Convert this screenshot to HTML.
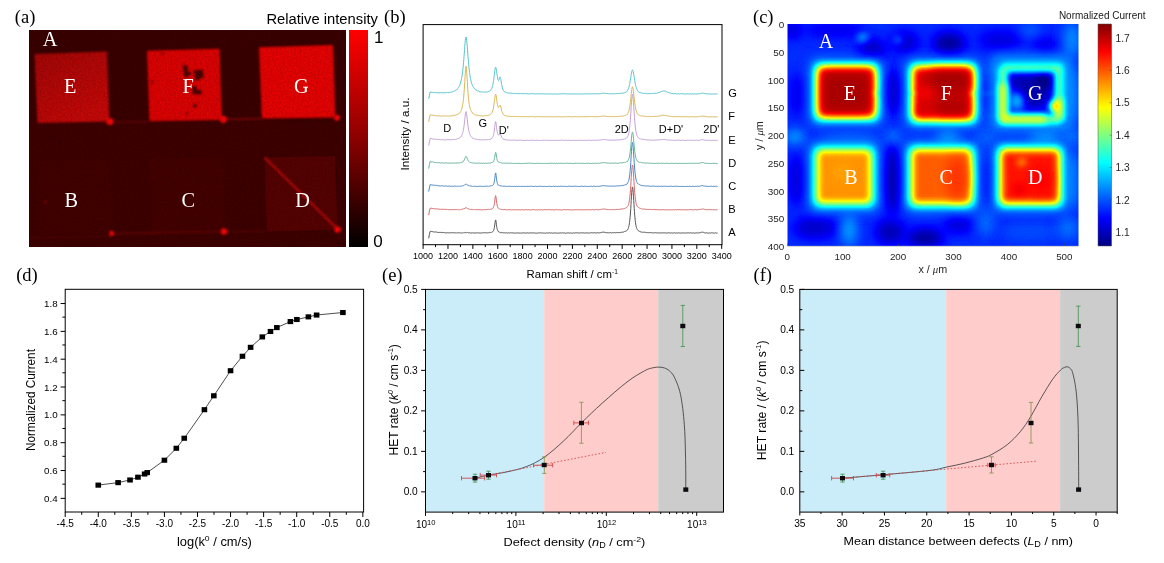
<!DOCTYPE html>
<html lang="en"><head><meta charset="utf-8"><title>Figure</title>
<style>html,body{margin:0;padding:0;background:#fff;overflow:hidden}svg{display:block}</style></head>
<body><svg width="1164" height="563" viewBox="0 0 1164 563">
<rect width="1164" height="563" fill="#fff"/>
<defs>
<linearGradient id="cbA" x1="0" y1="0" x2="0" y2="1">
<stop offset="0" stop-color="#ff0000"/><stop offset="0.5" stop-color="#8c0000"/><stop offset="1" stop-color="#000000"/>
</linearGradient>
<linearGradient id="gE" x1="0" y1="0" x2="0.6" y2="1"><stop offset="0" stop-color="#a80606"/><stop offset="1" stop-color="#cc0808"/></linearGradient>
<linearGradient id="cbC" x1="0" y1="1" x2="0" y2="0">
<stop offset="0" stop-color="#000080"/><stop offset="0.125" stop-color="#0000ff"/><stop offset="0.375" stop-color="#00ffff"/><stop offset="0.625" stop-color="#ffff00"/><stop offset="0.875" stop-color="#ff0000"/><stop offset="1" stop-color="#800000"/>
</linearGradient>
<filter id="grain" x="0" y="0" width="100%" height="100%" color-interpolation-filters="sRGB">
<feTurbulence type="fractalNoise" baseFrequency="0.55" numOctaves="1" seed="4" result="n"/>
<feColorMatrix in="n" type="matrix" values="0.34 0 0 0 0.74  0.34 0 0 0 0.74  0.34 0 0 0 0.74  0 0 0 0 1" result="g"/>
<feBlend in="SourceGraphic" in2="g" mode="multiply"/>
</filter>
<filter id="soft" x="-5%" y="-5%" width="110%" height="110%" color-interpolation-filters="sRGB"><feGaussianBlur stdDeviation="0.9"/></filter>
<filter id="jet" x="0" y="0" width="100%" height="100%" color-interpolation-filters="sRGB">
<feGaussianBlur stdDeviation="0.6" result="b"/>
<feComponentTransfer in="b">
<feFuncR type="table" tableValues="0 0 0 0 0.5 1 1 1 0.5"/>
<feFuncG type="table" tableValues="0 0 0.5 1 1 1 0.5 0 0"/>
<feFuncB type="table" tableValues="0.5 1 1 1 0.5 0 0 0 0"/>
<feFuncA type="linear" slope="0" intercept="1"/>
</feComponentTransfer>
</filter>
<filter id="b2" filterUnits="userSpaceOnUse" x="740" y="0" width="424" height="282" color-interpolation-filters="sRGB"><feGaussianBlur stdDeviation="2"/></filter>
<filter id="b3" filterUnits="userSpaceOnUse" x="740" y="0" width="424" height="282" color-interpolation-filters="sRGB"><feGaussianBlur stdDeviation="3"/></filter>
<filter id="b35" filterUnits="userSpaceOnUse" x="740" y="0" width="424" height="282" color-interpolation-filters="sRGB"><feGaussianBlur stdDeviation="3.4"/></filter>
<filter id="b4" filterUnits="userSpaceOnUse" x="740" y="0" width="424" height="282" color-interpolation-filters="sRGB"><feGaussianBlur stdDeviation="4.2"/></filter>
<filter id="b6" filterUnits="userSpaceOnUse" x="740" y="0" width="424" height="282" color-interpolation-filters="sRGB"><feGaussianBlur stdDeviation="6"/></filter>
<clipPath id="clipA"><rect x="29" y="30" width="317" height="217"/></clipPath>
<clipPath id="clipC"><rect x="787.5" y="24" width="291" height="222"/></clipPath>
</defs>
<text x="14.80" y="23.00" font-size="18.5" text-anchor="start" font-family="Liberation Serif, Times New Roman, serif" fill="#000" >(a)</text>
<g clip-path="url(#clipA)"><g filter="url(#grain)">
<rect x="29" y="30" width="317" height="217" fill="#3c0000"/>
<rect x="29" y="122" width="317" height="125" fill="#400000"/>
<polygon points="38,161 110,159 112,233 40,235" fill="#440000"/>
<polygon points="150,159 223,157 225,231 152,233" fill="#460000"/>
<polygon points="264.6,157.5 335,156 337.5,229.5 267,231.5" fill="#580101"/>
<g filter="url(#soft)">
<polygon points="34.5,54 107,51.5 109.5,121.5 37.5,123" fill="url(#gE)"/>
<polygon points="147,50.8 219.6,48.7 222,120 149.4,121.2" fill="#e40202"/>
<polygon points="259,47.2 333,45 335.4,117.4 261.8,118.4" fill="#ee0202"/>
</g>
<g filter="url(#soft)">
<line x1="111.00" y1="122.00" x2="147.00" y2="121.60" stroke="#7a0505" stroke-width="1.2" />
<line x1="222.00" y1="119.60" x2="262.00" y2="118.60" stroke="#a00808" stroke-width="1.2" />
<line x1="111.00" y1="233.60" x2="224.00" y2="231.60" stroke="#740404" stroke-width="1.3" />
<line x1="29.00" y1="238.00" x2="111.00" y2="236.50" stroke="#5c0404" stroke-width="1.2" />
<line x1="224.00" y1="231.60" x2="267.00" y2="231.00" stroke="#5c0404" stroke-width="1.2" />
<line x1="264.60" y1="157.50" x2="338.00" y2="229.50" stroke="#c40a0a" stroke-width="2" />
<circle cx="110" cy="121.5" r="3.6" fill="#ff0606"/>
<circle cx="223.4" cy="119.3" r="3.6" fill="#ff0606"/>
<circle cx="337" cy="117.8" r="3.0" fill="#ff0606"/>
<circle cx="111.6" cy="233.4" r="2.6" fill="#f00606"/>
<circle cx="224" cy="231.5" r="3.3" fill="#ff0606"/>
<circle cx="337.5" cy="229.5" r="3.2" fill="#ff0606"/>
<circle cx="45.5" cy="202" r="1.2" fill="#a00808"/>
<rect x="183" y="65.5" width="4.5" height="5" fill="#4a0202"/>
<rect x="184" y="70" width="4" height="7" fill="#4a0202"/>
<rect x="188" y="72" width="3" height="3" fill="#4a0202"/>
<rect x="194" y="70" width="9" height="4" fill="#4a0202"/>
<rect x="195" y="74" width="5" height="6" fill="#4a0202"/>
<rect x="200" y="74" width="3.5" height="4" fill="#4a0202"/>
<rect x="192.5" y="86" width="4" height="8" fill="#4a0202"/>
<rect x="196" y="90" width="5.5" height="4.5" fill="#4a0202"/>
<rect x="193.5" y="104" width="3" height="3.5" fill="#4a0202"/>
<rect x="186" y="112.5" width="2" height="2" fill="#4a0202"/>
<rect x="151" y="81" width="2" height="2" fill="#4a0202"/>
<rect x="161" y="53" width="2.5" height="1.5" fill="#4a0202"/>
</g>
</g></g>
<text x="42.80" y="46.30" font-size="20.3" text-anchor="start" font-family="Liberation Serif, Times New Roman, serif" fill="#fff" >A</text>
<text x="64.00" y="92.90" font-size="20.3" text-anchor="start" font-family="Liberation Serif, Times New Roman, serif" fill="#fff" >E</text>
<text x="182.40" y="92.90" font-size="20.3" text-anchor="start" font-family="Liberation Serif, Times New Roman, serif" fill="#fff" >F</text>
<text x="294.00" y="92.90" font-size="20.3" text-anchor="start" font-family="Liberation Serif, Times New Roman, serif" fill="#fff" >G</text>
<text x="64.60" y="207.40" font-size="20.3" text-anchor="start" font-family="Liberation Serif, Times New Roman, serif" fill="#fff" >B</text>
<text x="181.60" y="207.40" font-size="20.3" text-anchor="start" font-family="Liberation Serif, Times New Roman, serif" fill="#fff" >C</text>
<text x="295.20" y="207.40" font-size="20.3" text-anchor="start" font-family="Liberation Serif, Times New Roman, serif" fill="#fff" >D</text>
<rect x="349" y="30" width="19" height="217" fill="url(#cbA)"/>
<text x="266.40" y="24.20" font-size="14.75" text-anchor="start" font-family="Liberation Sans, Arial, sans-serif" fill="#000" >Relative intensity</text>
<text x="374.00" y="42.50" font-size="17" text-anchor="start" font-family="Liberation Sans, Arial, sans-serif" fill="#000" >1</text>
<text x="373.20" y="247.00" font-size="17" text-anchor="start" font-family="Liberation Sans, Arial, sans-serif" fill="#000" >0</text>
<text x="384.00" y="23.00" font-size="18.5" text-anchor="start" font-family="Liberation Serif, Times New Roman, serif" fill="#000" >(b)</text>
<path d="M428.7,238.3 L429.4,234.4 L430.2,231.3 L430.9,231.4 L431.7,231.5 L432.4,231.6 L433.2,231.8 L433.9,231.9 L434.7,232.1 L435.4,231.9 L436.2,232.2 L436.9,232.0 L437.7,232.4 L438.4,232.5 L439.1,232.4 L439.9,232.4 L440.6,232.4 L441.4,232.4 L442.1,232.5 L442.9,232.7 L443.6,232.5 L444.4,232.7 L445.1,232.8 L445.9,232.8 L446.6,232.9 L447.4,232.7 L448.1,232.9 L448.9,232.9 L449.6,232.7 L450.3,232.8 L451.1,232.8 L451.8,232.8 L452.6,232.7 L453.3,232.7 L454.1,232.7 L454.8,232.9 L455.6,232.9 L456.3,233.0 L456.6,232.9 L456.8,233.0 L457.1,232.7 L457.3,232.8 L457.6,233.0 L457.8,232.8 L458.1,232.8 L458.3,233.1 L458.6,232.8 L458.8,232.8 L459.1,232.9 L459.3,232.7 L459.6,233.1 L459.8,233.1 L460.1,232.8 L460.3,232.8 L460.5,233.1 L460.8,232.9 L461.0,232.9 L461.3,232.9 L461.5,233.0 L461.8,232.8 L462.0,232.7 L462.3,232.9 L462.5,233.0 L462.8,232.9 L463.0,232.8 L463.3,232.8 L463.5,232.7 L463.8,232.9 L464.0,232.7 L464.3,232.7 L464.5,232.9 L464.8,232.9 L465.0,232.6 L465.3,232.8 L465.5,232.5 L465.8,232.5 L466.0,232.7 L466.3,232.6 L466.5,232.8 L466.8,232.7 L467.0,232.8 L467.3,232.6 L467.5,232.9 L467.8,232.6 L468.0,232.9 L468.3,232.9 L468.5,233.0 L468.8,233.0 L469.0,233.1 L469.3,233.0 L469.5,232.7 L469.8,232.8 L470.0,233.1 L470.3,233.1 L470.5,232.9 L470.8,232.8 L471.0,232.9 L471.2,233.0 L471.5,232.9 L471.7,233.1 L472.0,233.1 L472.2,232.9 L472.5,232.8 L472.7,233.0 L473.0,233.0 L473.2,232.9 L473.5,232.8 L473.7,233.1 L474.0,233.1 L474.2,232.9 L474.5,233.0 L474.7,233.1 L475.0,233.1 L475.2,232.8 L475.5,233.1 L475.7,233.0 L476.0,232.8 L476.2,233.0 L477.0,232.8 L477.7,232.8 L478.5,232.9 L479.2,233.0 L480.0,233.1 L480.7,233.0 L481.5,232.9 L482.2,232.7 L482.9,233.1 L483.7,232.8 L484.4,232.7 L485.2,232.7 L485.9,232.9 L486.7,232.8 L487.4,232.9 L488.2,233.0 L488.4,232.8 L488.7,232.6 L488.9,232.9 L489.2,232.7 L489.4,232.9 L489.7,232.8 L489.9,232.5 L490.2,232.8 L490.4,232.5 L490.7,232.6 L490.9,232.5 L491.2,232.2 L491.4,232.4 L491.7,232.2 L491.9,232.0 L492.2,232.0 L492.4,232.1 L492.6,231.8 L492.9,231.4 L493.1,231.3 L493.4,231.0 L493.6,230.4 L493.9,229.8 L494.1,228.8 L494.4,227.7 L494.6,225.8 L494.9,223.9 L495.1,222.2 L495.4,220.4 L495.6,219.9 L495.9,220.4 L496.1,222.2 L496.4,224.3 L496.6,226.2 L496.9,227.7 L497.1,228.8 L497.4,229.6 L497.6,230.4 L497.9,230.9 L498.1,231.4 L498.4,231.4 L498.6,231.6 L498.9,232.1 L499.1,232.1 L499.4,232.2 L499.6,232.3 L499.9,232.5 L500.1,232.3 L500.4,232.4 L500.6,232.7 L500.9,232.7 L501.1,232.5 L501.4,232.6 L501.6,232.7 L501.9,232.5 L502.1,232.9 L502.4,232.5 L502.6,232.6 L502.9,232.8 L503.1,232.8 L503.3,232.9 L504.1,232.8 L504.8,232.8 L505.6,232.9 L506.3,232.8 L507.1,233.1 L507.8,233.0 L508.6,232.7 L509.3,233.1 L510.1,232.7 L510.8,233.0 L511.6,232.8 L512.3,232.8 L513.1,233.1 L513.8,232.8 L514.5,233.1 L515.3,233.1 L516.0,233.0 L516.8,233.0 L517.5,232.8 L518.3,233.1 L519.0,232.9 L519.8,233.1 L520.5,233.1 L521.3,233.1 L522.0,232.9 L522.8,233.0 L523.5,232.8 L524.3,233.0 L525.0,232.8 L525.7,233.1 L526.5,233.0 L527.2,232.9 L528.0,232.8 L528.7,233.1 L529.5,233.0 L530.2,232.9 L531.0,232.8 L531.7,232.9 L532.5,233.0 L533.2,232.9 L534.0,232.9 L534.7,233.0 L535.4,233.1 L536.2,233.2 L536.9,233.1 L537.7,233.1 L538.4,232.8 L539.2,233.0 L539.9,232.9 L540.7,232.8 L541.4,232.9 L542.2,233.2 L542.9,232.9 L543.7,233.0 L544.4,233.1 L545.2,233.1 L545.9,233.2 L546.6,232.8 L547.4,233.1 L548.1,233.1 L548.9,232.8 L549.6,232.8 L550.4,233.0 L551.1,233.1 L551.9,232.8 L552.6,233.2 L553.4,233.0 L554.1,233.2 L554.9,232.8 L555.6,232.9 L556.4,233.1 L557.1,233.2 L557.8,233.1 L558.6,233.1 L559.3,233.1 L560.1,232.8 L560.8,232.9 L561.6,233.1 L562.3,232.8 L563.1,232.9 L563.8,233.0 L564.6,233.0 L565.3,233.2 L566.1,233.2 L566.8,233.0 L567.5,232.9 L568.3,232.8 L569.0,233.2 L569.8,233.0 L570.5,233.0 L571.3,233.1 L572.0,233.1 L572.8,233.2 L573.5,232.8 L574.3,233.1 L575.0,232.8 L575.8,232.9 L576.5,232.8 L577.3,232.9 L578.0,232.9 L578.7,232.9 L579.5,233.1 L580.2,232.9 L581.0,232.8 L581.7,232.8 L582.5,233.0 L583.2,232.9 L584.0,232.8 L584.7,233.1 L585.5,232.9 L586.2,233.1 L587.0,232.9 L587.7,232.8 L588.4,233.0 L589.2,233.1 L589.9,233.0 L590.7,232.8 L591.4,232.7 L592.2,232.9 L592.9,232.8 L593.7,232.9 L594.4,232.7 L595.2,232.8 L595.9,232.8 L596.7,233.0 L597.4,232.7 L598.2,232.9 L598.9,232.8 L599.6,232.9 L600.4,232.7 L601.1,232.5 L601.9,232.3 L602.6,232.2 L603.4,232.1 L604.1,232.2 L604.9,232.4 L605.6,232.6 L606.4,232.7 L607.1,232.8 L607.9,232.7 L608.6,232.9 L609.4,232.7 L610.1,232.7 L610.8,232.6 L611.6,232.9 L612.3,232.6 L613.1,232.9 L613.8,232.7 L614.6,232.6 L615.3,232.8 L616.1,232.5 L616.8,232.7 L617.6,232.6 L618.3,232.6 L619.1,232.7 L619.8,232.5 L620.5,232.5 L621.3,232.3 L622.0,232.0 L622.8,232.3 L623.5,232.0 L624.3,231.7 L624.5,231.5 L624.8,231.8 L625.0,231.5 L625.3,231.2 L625.5,231.2 L625.8,231.4 L626.0,231.1 L626.3,231.0 L626.5,230.8 L626.8,230.6 L627.0,230.4 L627.3,230.0 L627.5,229.6 L627.8,229.5 L628.0,229.0 L628.3,228.4 L628.5,227.5 L628.8,226.5 L629.0,225.5 L629.3,224.0 L629.5,222.5 L629.8,220.2 L630.0,217.7 L630.3,215.0 L630.5,212.0 L630.8,208.3 L631.0,204.4 L631.2,200.3 L631.5,196.3 L631.7,192.5 L632.0,189.9 L632.2,187.7 L632.5,186.9 L632.7,187.6 L633.0,189.6 L633.2,192.8 L633.5,196.4 L633.7,200.4 L634.0,204.2 L634.2,208.3 L634.5,211.6 L634.7,215.2 L635.0,217.7 L635.2,220.4 L635.5,222.6 L635.7,224.0 L636.0,225.5 L636.2,226.8 L636.5,227.4 L636.7,228.3 L637.0,228.7 L637.2,229.4 L637.5,229.8 L637.7,229.9 L638.0,230.4 L638.2,230.5 L638.5,230.7 L638.7,231.1 L639.0,231.1 L639.2,231.3 L639.5,231.4 L639.7,231.3 L640.0,231.4 L640.2,231.5 L640.5,231.8 L640.7,231.9 L641.0,231.6 L641.2,232.0 L641.5,232.1 L642.2,232.2 L642.9,232.4 L643.7,232.2 L644.4,232.2 L645.2,232.3 L645.9,232.5 L646.7,232.7 L647.4,232.6 L648.2,232.7 L648.9,232.8 L649.7,232.6 L650.4,232.6 L651.2,232.7 L651.9,232.8 L652.6,232.8 L653.4,233.0 L654.1,232.7 L654.9,232.8 L655.6,232.7 L656.4,232.8 L657.1,233.0 L657.9,232.9 L658.6,232.9 L659.4,233.0 L660.1,232.8 L660.9,232.9 L661.6,232.9 L662.4,233.0 L663.1,232.8 L663.8,232.8 L664.6,232.9 L665.3,233.0 L666.1,232.9 L666.8,233.0 L667.6,233.0 L668.3,232.7 L669.1,233.0 L669.8,232.8 L670.6,233.1 L671.3,232.9 L672.1,232.9 L672.8,233.1 L673.6,233.1 L674.3,232.7 L675.0,233.0 L675.8,233.1 L676.5,233.0 L677.3,233.0 L678.0,233.0 L678.8,232.8 L679.5,233.0 L680.3,233.1 L681.0,232.9 L681.8,233.0 L682.5,232.9 L683.3,233.0 L684.0,233.0 L684.7,233.0 L685.5,233.0 L686.2,233.0 L687.0,233.0 L687.7,232.8 L688.5,232.8 L689.2,233.0 L690.0,233.0 L690.7,232.8 L691.5,233.1 L692.2,232.9 L693.0,233.2 L693.7,232.9 L694.5,233.1 L695.2,233.0 L695.9,233.0 L696.7,232.8 L697.4,233.0 L698.2,232.9 L698.9,232.9 L699.7,232.7 L700.4,232.7 L701.2,232.2 L701.9,232.3 L702.7,232.2 L703.4,232.3 L704.2,232.7 L704.9,232.9 L705.7,233.0 L706.4,232.8 L707.1,233.0 L707.9,233.0 L708.6,233.1 L709.4,233.0 L710.1,233.1 L710.9,233.0 L711.6,232.8 L712.4,232.8 L713.1,233.2 L713.9,232.9 L714.6,233.2 L715.4,232.8 L716.1,232.9 L716.8,233.2 L717.6,233.0" fill="none" stroke="#555555" stroke-width="1" stroke-linejoin="round"/>
<text x="728.30" y="236.20" font-size="11.1" text-anchor="start" font-family="Liberation Sans, Arial, sans-serif" fill="#000" >A</text>
<path d="M428.7,215.1 L429.4,211.2 L430.2,208.1 L430.9,208.3 L431.7,208.3 L432.4,208.6 L433.2,208.5 L433.9,208.6 L434.7,208.9 L435.4,208.8 L436.2,208.9 L436.9,208.8 L437.7,208.9 L438.4,209.1 L439.1,209.3 L439.9,209.1 L440.6,209.4 L441.4,209.3 L442.1,209.3 L442.9,209.2 L443.6,209.3 L444.4,209.4 L445.1,209.3 L445.9,209.6 L446.6,209.3 L447.4,209.5 L448.1,209.6 L448.9,209.7 L449.6,209.7 L450.3,209.7 L451.1,209.7 L451.8,209.5 L452.6,209.7 L453.3,209.7 L454.1,209.6 L454.8,209.6 L455.6,209.5 L456.3,209.6 L456.6,209.7 L456.8,209.7 L457.1,209.4 L457.3,209.7 L457.6,209.7 L457.8,209.6 L458.1,209.6 L458.3,209.8 L458.6,209.7 L458.8,209.5 L459.1,209.7 L459.3,209.7 L459.6,209.7 L459.8,209.5 L460.1,209.4 L460.3,209.6 L460.5,209.6 L460.8,209.6 L461.0,209.4 L461.3,209.6 L461.5,209.4 L461.8,209.4 L462.0,209.5 L462.3,209.3 L462.5,209.3 L462.8,209.1 L463.0,209.2 L463.3,208.9 L463.5,209.1 L463.8,208.7 L464.0,209.0 L464.3,208.5 L464.5,208.7 L464.8,208.2 L465.0,208.0 L465.3,208.1 L465.5,207.8 L465.8,207.7 L466.0,207.6 L466.3,207.9 L466.5,207.8 L466.8,207.9 L467.0,208.3 L467.3,208.5 L467.5,208.4 L467.8,208.6 L468.0,208.9 L468.3,209.0 L468.5,208.9 L468.8,209.0 L469.0,209.2 L469.3,209.1 L469.5,209.2 L469.8,209.3 L470.0,209.5 L470.3,209.5 L470.5,209.4 L470.8,209.4 L471.0,209.7 L471.2,209.7 L471.5,209.7 L471.7,209.4 L472.0,209.7 L472.2,209.4 L472.5,209.7 L472.7,209.6 L473.0,209.6 L473.2,209.8 L473.5,209.6 L473.7,209.6 L474.0,209.7 L474.2,209.7 L474.5,209.8 L474.7,209.6 L475.0,209.7 L475.2,209.7 L475.5,209.6 L475.7,209.6 L476.0,209.7 L476.2,209.7 L477.0,209.6 L477.7,209.7 L478.5,209.6 L479.2,209.8 L480.0,209.7 L480.7,209.7 L481.5,209.8 L482.2,209.9 L482.9,209.7 L483.7,209.8 L484.4,209.5 L485.2,209.8 L485.9,209.6 L486.7,209.6 L487.4,209.5 L488.2,209.3 L488.4,209.4 L488.7,209.5 L488.9,209.6 L489.2,209.4 L489.4,209.4 L489.7,209.3 L489.9,209.5 L490.2,209.4 L490.4,209.3 L490.7,209.1 L490.9,209.3 L491.2,209.2 L491.4,209.1 L491.7,209.1 L491.9,208.8 L492.2,208.6 L492.4,208.8 L492.6,208.4 L492.9,208.1 L493.1,208.0 L493.4,207.3 L493.6,206.9 L493.9,206.3 L494.1,205.2 L494.4,203.7 L494.6,202.2 L494.9,200.0 L495.1,198.0 L495.4,196.4 L495.6,195.6 L495.9,196.4 L496.1,198.1 L496.4,200.2 L496.6,202.1 L496.9,203.8 L497.1,205.1 L497.4,206.1 L497.6,206.8 L497.9,207.6 L498.1,207.8 L498.4,208.1 L498.6,208.2 L498.9,208.6 L499.1,208.6 L499.4,208.9 L499.6,209.1 L499.9,208.9 L500.1,209.0 L500.4,209.3 L500.6,209.3 L500.9,209.2 L501.1,209.3 L501.4,209.5 L501.6,209.2 L501.9,209.4 L502.1,209.3 L502.4,209.5 L502.6,209.6 L502.9,209.5 L503.1,209.6 L503.3,209.7 L504.1,209.5 L504.8,209.6 L505.6,209.5 L506.3,209.8 L507.1,209.9 L507.8,209.7 L508.6,209.7 L509.3,209.6 L510.1,209.9 L510.8,209.6 L511.6,209.9 L512.3,209.8 L513.1,209.7 L513.8,209.6 L514.5,209.8 L515.3,209.8 L516.0,209.8 L516.8,209.7 L517.5,209.6 L518.3,209.9 L519.0,209.8 L519.8,209.8 L520.5,209.9 L521.3,209.6 L522.0,209.9 L522.8,209.8 L523.5,209.8 L524.3,209.9 L525.0,209.7 L525.7,209.7 L526.5,209.6 L527.2,209.7 L528.0,209.9 L528.7,209.7 L529.5,209.9 L530.2,209.9 L531.0,209.9 L531.7,209.8 L532.5,209.6 L533.2,209.7 L534.0,209.7 L534.7,209.6 L535.4,210.0 L536.2,209.8 L536.9,209.8 L537.7,210.0 L538.4,209.7 L539.2,209.7 L539.9,209.9 L540.7,209.9 L541.4,209.6 L542.2,209.8 L542.9,209.9 L543.7,209.9 L544.4,209.7 L545.2,209.6 L545.9,209.7 L546.6,209.6 L547.4,209.9 L548.1,209.6 L548.9,209.6 L549.6,209.6 L550.4,209.8 L551.1,209.7 L551.9,210.0 L552.6,209.7 L553.4,209.9 L554.1,210.0 L554.9,209.8 L555.6,209.7 L556.4,209.7 L557.1,209.6 L557.8,209.7 L558.6,209.9 L559.3,209.7 L560.1,210.0 L560.8,209.9 L561.6,210.0 L562.3,209.9 L563.1,209.8 L563.8,209.6 L564.6,209.6 L565.3,209.8 L566.1,209.6 L566.8,209.9 L567.5,209.6 L568.3,209.7 L569.0,209.9 L569.8,209.6 L570.5,209.9 L571.3,209.9 L572.0,209.8 L572.8,209.9 L573.5,209.8 L574.3,209.7 L575.0,209.7 L575.8,209.8 L576.5,209.6 L577.3,209.8 L578.0,209.8 L578.7,209.6 L579.5,209.8 L580.2,209.6 L581.0,209.9 L581.7,209.8 L582.5,209.8 L583.2,209.7 L584.0,209.9 L584.7,209.8 L585.5,209.7 L586.2,209.8 L587.0,209.8 L587.7,209.7 L588.4,209.6 L589.2,209.6 L589.9,209.8 L590.7,209.9 L591.4,209.7 L592.2,209.7 L592.9,209.5 L593.7,209.8 L594.4,209.8 L595.2,209.6 L595.9,209.7 L596.7,209.5 L597.4,209.6 L598.2,209.7 L598.9,209.8 L599.6,209.6 L600.4,209.6 L601.1,209.2 L601.9,209.4 L602.6,209.0 L603.4,209.1 L604.1,209.2 L604.9,209.0 L605.6,209.1 L606.4,209.5 L607.1,209.5 L607.9,209.6 L608.6,209.6 L609.4,209.6 L610.1,209.4 L610.8,209.8 L611.6,209.7 L612.3,209.7 L613.1,209.4 L613.8,209.7 L614.6,209.6 L615.3,209.7 L616.1,209.4 L616.8,209.4 L617.6,209.5 L618.3,209.5 L619.1,209.4 L619.8,209.2 L620.5,209.1 L621.3,209.1 L622.0,208.9 L622.8,208.9 L623.5,208.8 L624.3,208.6 L624.5,208.6 L624.8,208.4 L625.0,208.5 L625.3,208.2 L625.5,208.1 L625.8,208.2 L626.0,207.7 L626.3,207.6 L626.5,207.6 L626.8,207.4 L627.0,207.3 L627.3,206.7 L627.5,206.5 L627.8,206.1 L628.0,205.8 L628.3,205.3 L628.5,204.4 L628.8,203.5 L629.0,202.3 L629.3,200.9 L629.5,199.5 L629.8,197.4 L630.0,194.8 L630.3,192.0 L630.5,189.2 L630.8,185.6 L631.0,181.7 L631.2,177.7 L631.5,173.9 L631.7,170.5 L632.0,167.4 L632.2,165.5 L632.5,164.9 L632.7,165.4 L633.0,167.2 L633.2,170.2 L633.5,174.1 L633.7,177.7 L634.0,181.6 L634.2,185.4 L634.5,189.1 L634.7,192.3 L635.0,195.1 L635.2,197.2 L635.5,199.3 L635.7,201.1 L636.0,202.6 L636.2,203.7 L636.5,204.4 L636.7,205.3 L637.0,205.9 L637.2,206.3 L637.5,206.5 L637.7,206.9 L638.0,207.2 L638.2,207.3 L638.5,207.7 L638.7,207.6 L639.0,207.9 L639.2,207.9 L639.5,208.1 L639.7,208.1 L640.0,208.4 L640.2,208.6 L640.5,208.6 L640.7,208.4 L641.0,208.6 L641.2,208.9 L641.5,208.7 L642.2,209.1 L642.9,209.2 L643.7,209.0 L644.4,209.1 L645.2,209.2 L645.9,209.3 L646.7,209.5 L647.4,209.4 L648.2,209.6 L648.9,209.4 L649.7,209.4 L650.4,209.4 L651.2,209.4 L651.9,209.6 L652.6,209.6 L653.4,209.5 L654.1,209.5 L654.9,209.6 L655.6,209.7 L656.4,209.7 L657.1,209.5 L657.9,209.5 L658.6,209.8 L659.4,209.7 L660.1,209.9 L660.9,209.8 L661.6,209.7 L662.4,209.6 L663.1,209.7 L663.8,209.7 L664.6,209.8 L665.3,209.9 L666.1,209.6 L666.8,209.9 L667.6,209.9 L668.3,209.9 L669.1,209.9 L669.8,209.7 L670.6,209.8 L671.3,209.8 L672.1,209.8 L672.8,209.9 L673.6,209.6 L674.3,209.8 L675.0,209.7 L675.8,209.7 L676.5,209.8 L677.3,209.6 L678.0,209.6 L678.8,209.8 L679.5,209.6 L680.3,209.7 L681.0,209.9 L681.8,209.7 L682.5,209.8 L683.3,209.7 L684.0,209.7 L684.7,209.9 L685.5,209.7 L686.2,209.9 L687.0,209.6 L687.7,209.9 L688.5,209.7 L689.2,209.7 L690.0,209.6 L690.7,209.7 L691.5,209.6 L692.2,209.9 L693.0,209.7 L693.7,209.9 L694.5,209.6 L695.2,209.6 L695.9,209.6 L696.7,209.9 L697.4,209.8 L698.2,209.6 L698.9,209.8 L699.7,209.4 L700.4,209.5 L701.2,209.2 L701.9,209.1 L702.7,209.0 L703.4,209.0 L704.2,209.3 L704.9,209.6 L705.7,209.5 L706.4,209.7 L707.1,209.6 L707.9,209.8 L708.6,209.6 L709.4,209.6 L710.1,209.7 L710.9,209.8 L711.6,209.6 L712.4,209.7 L713.1,210.0 L713.9,209.6 L714.6,209.6 L715.4,209.9 L716.1,209.7 L716.8,209.8 L717.6,209.7" fill="none" stroke="#d86868" stroke-width="1" stroke-linejoin="round"/>
<text x="728.30" y="213.00" font-size="11.1" text-anchor="start" font-family="Liberation Sans, Arial, sans-serif" fill="#000" >B</text>
<path d="M428.7,191.5 L429.4,187.9 L430.2,184.5 L430.9,184.7 L431.7,185.0 L432.4,185.0 L433.2,185.1 L433.9,185.4 L434.7,185.2 L435.4,185.4 L436.2,185.4 L436.9,185.4 L437.7,185.5 L438.4,185.9 L439.1,185.9 L439.9,185.9 L440.6,186.0 L441.4,185.8 L442.1,185.8 L442.9,185.9 L443.6,185.9 L444.4,186.2 L445.1,185.9 L445.9,186.1 L446.6,186.0 L447.4,186.3 L448.1,186.0 L448.9,186.2 L449.6,186.0 L450.3,186.3 L451.1,186.2 L451.8,186.2 L452.6,186.1 L453.3,186.4 L454.1,186.1 L454.8,186.2 L455.6,186.1 L456.3,186.3 L456.6,186.3 L456.8,186.1 L457.1,186.2 L457.3,186.3 L457.6,186.1 L457.8,186.1 L458.1,186.2 L458.3,186.2 L458.6,186.3 L458.8,186.1 L459.1,186.1 L459.3,186.3 L459.6,186.2 L459.8,186.0 L460.1,186.3 L460.3,186.3 L460.5,186.2 L460.8,186.1 L461.0,186.1 L461.3,186.2 L461.5,185.9 L461.8,186.0 L462.0,186.1 L462.3,185.9 L462.5,185.9 L462.8,185.9 L463.0,185.7 L463.3,185.6 L463.5,185.7 L463.8,185.5 L464.0,185.3 L464.3,185.0 L464.5,184.9 L464.8,185.0 L465.0,184.8 L465.3,184.3 L465.5,184.4 L465.8,184.3 L466.0,184.4 L466.3,184.2 L466.5,184.3 L466.8,184.6 L467.0,184.8 L467.3,185.0 L467.5,184.8 L467.8,185.0 L468.0,185.3 L468.3,185.6 L468.5,185.7 L468.8,185.5 L469.0,185.7 L469.3,185.8 L469.5,185.9 L469.8,186.0 L470.0,185.8 L470.3,186.0 L470.5,185.9 L470.8,186.0 L471.0,186.1 L471.2,186.2 L471.5,186.1 L471.7,186.1 L472.0,186.2 L472.2,186.0 L472.5,186.3 L472.7,186.3 L473.0,186.1 L473.2,186.3 L473.5,186.0 L473.7,186.4 L474.0,186.2 L474.2,186.3 L474.5,186.1 L474.7,186.3 L475.0,186.5 L475.2,186.4 L475.5,186.4 L475.7,186.3 L476.0,186.3 L476.2,186.5 L477.0,186.4 L477.7,186.4 L478.5,186.4 L479.2,186.2 L480.0,186.4 L480.7,186.1 L481.5,186.5 L482.2,186.5 L482.9,186.2 L483.7,186.4 L484.4,186.3 L485.2,186.4 L485.9,186.1 L486.7,186.2 L487.4,186.2 L488.2,186.4 L488.4,186.3 L488.7,186.1 L488.9,186.3 L489.2,186.2 L489.4,186.2 L489.7,185.9 L489.9,186.0 L490.2,186.0 L490.4,185.9 L490.7,185.8 L490.9,185.9 L491.2,185.8 L491.4,185.7 L491.7,185.7 L491.9,185.5 L492.2,185.6 L492.4,185.5 L492.6,185.2 L492.9,184.9 L493.1,184.8 L493.4,184.6 L493.6,184.0 L493.9,183.5 L494.1,182.4 L494.4,181.2 L494.6,179.6 L494.9,177.8 L495.1,175.5 L495.4,173.6 L495.6,172.9 L495.9,173.5 L496.1,175.4 L496.4,177.8 L496.6,179.8 L496.9,181.1 L497.1,182.3 L497.4,183.3 L497.6,183.9 L497.9,184.6 L498.1,184.6 L498.4,185.1 L498.6,185.2 L498.9,185.3 L499.1,185.7 L499.4,185.6 L499.6,185.8 L499.9,185.8 L500.1,185.8 L500.4,185.7 L500.6,186.1 L500.9,186.0 L501.1,186.1 L501.4,186.0 L501.6,186.0 L501.9,185.9 L502.1,185.9 L502.4,186.2 L502.6,186.1 L502.9,186.2 L503.1,186.1 L503.3,186.2 L504.1,186.1 L504.8,186.2 L505.6,186.3 L506.3,186.4 L507.1,186.3 L507.8,186.3 L508.6,186.5 L509.3,186.3 L510.1,186.2 L510.8,186.3 L511.6,186.5 L512.3,186.3 L513.1,186.5 L513.8,186.5 L514.5,186.3 L515.3,186.5 L516.0,186.6 L516.8,186.3 L517.5,186.4 L518.3,186.2 L519.0,186.3 L519.8,186.5 L520.5,186.5 L521.3,186.4 L522.0,186.4 L522.8,186.3 L523.5,186.5 L524.3,186.3 L525.0,186.6 L525.7,186.3 L526.5,186.5 L527.2,186.3 L528.0,186.4 L528.7,186.3 L529.5,186.4 L530.2,186.3 L531.0,186.3 L531.7,186.2 L532.5,186.5 L533.2,186.4 L534.0,186.5 L534.7,186.5 L535.4,186.2 L536.2,186.3 L536.9,186.4 L537.7,186.5 L538.4,186.4 L539.2,186.2 L539.9,186.4 L540.7,186.2 L541.4,186.5 L542.2,186.4 L542.9,186.3 L543.7,186.5 L544.4,186.4 L545.2,186.4 L545.9,186.5 L546.6,186.5 L547.4,186.5 L548.1,186.4 L548.9,186.4 L549.6,186.3 L550.4,186.3 L551.1,186.6 L551.9,186.6 L552.6,186.4 L553.4,186.2 L554.1,186.5 L554.9,186.5 L555.6,186.2 L556.4,186.5 L557.1,186.3 L557.8,186.5 L558.6,186.2 L559.3,186.6 L560.1,186.3 L560.8,186.2 L561.6,186.3 L562.3,186.3 L563.1,186.4 L563.8,186.3 L564.6,186.4 L565.3,186.3 L566.1,186.4 L566.8,186.6 L567.5,186.6 L568.3,186.2 L569.0,186.4 L569.8,186.2 L570.5,186.4 L571.3,186.3 L572.0,186.3 L572.8,186.4 L573.5,186.3 L574.3,186.2 L575.0,186.2 L575.8,186.2 L576.5,186.4 L577.3,186.4 L578.0,186.3 L578.7,186.5 L579.5,186.5 L580.2,186.3 L581.0,186.3 L581.7,186.2 L582.5,186.2 L583.2,186.5 L584.0,186.5 L584.7,186.2 L585.5,186.3 L586.2,186.4 L587.0,186.4 L587.7,186.4 L588.4,186.5 L589.2,186.5 L589.9,186.4 L590.7,186.1 L591.4,186.3 L592.2,186.5 L592.9,186.5 L593.7,186.1 L594.4,186.2 L595.2,186.5 L595.9,186.3 L596.7,186.4 L597.4,186.2 L598.2,186.4 L598.9,186.4 L599.6,186.2 L600.4,186.1 L601.1,186.0 L601.9,185.7 L602.6,185.7 L603.4,185.6 L604.1,185.8 L604.9,185.7 L605.6,185.9 L606.4,186.0 L607.1,185.9 L607.9,186.1 L608.6,186.1 L609.4,186.2 L610.1,186.2 L610.8,186.0 L611.6,186.1 L612.3,186.3 L613.1,186.0 L613.8,186.1 L614.6,186.1 L615.3,186.3 L616.1,185.9 L616.8,186.0 L617.6,185.9 L618.3,185.9 L619.1,185.8 L619.8,185.7 L620.5,185.7 L621.3,185.6 L622.0,185.4 L622.8,185.5 L623.5,185.3 L624.3,185.2 L624.5,185.0 L624.8,185.1 L625.0,184.8 L625.3,184.9 L625.5,184.6 L625.8,184.8 L626.0,184.4 L626.3,184.5 L626.5,184.3 L626.8,183.9 L627.0,184.0 L627.3,183.8 L627.5,183.1 L627.8,182.7 L628.0,182.6 L628.3,181.8 L628.5,181.4 L628.8,180.3 L629.0,179.3 L629.3,178.0 L629.5,176.1 L629.8,174.4 L630.0,171.7 L630.3,169.2 L630.5,166.0 L630.8,162.5 L631.0,158.8 L631.2,155.1 L631.5,151.4 L631.7,147.8 L632.0,144.8 L632.2,143.0 L632.5,142.5 L632.7,143.2 L633.0,144.9 L633.2,147.6 L633.5,151.3 L633.7,155.3 L634.0,158.9 L634.2,162.8 L634.5,166.0 L634.7,169.0 L635.0,172.1 L635.2,174.1 L635.5,176.1 L635.7,178.1 L636.0,179.1 L636.2,180.1 L636.5,181.3 L636.7,181.8 L637.0,182.5 L637.2,182.8 L637.5,183.1 L637.7,183.7 L638.0,183.7 L638.2,183.9 L638.5,184.1 L638.7,184.2 L639.0,184.5 L639.2,184.5 L639.5,184.6 L639.7,184.7 L640.0,185.0 L640.2,185.0 L640.5,185.0 L640.7,185.2 L641.0,185.2 L641.2,185.5 L641.5,185.4 L642.2,185.7 L642.9,185.6 L643.7,185.7 L644.4,185.9 L645.2,185.9 L645.9,186.0 L646.7,186.0 L647.4,185.9 L648.2,185.9 L648.9,186.2 L649.7,186.2 L650.4,186.2 L651.2,186.3 L651.9,186.2 L652.6,186.1 L653.4,186.1 L654.1,186.2 L654.9,186.2 L655.6,186.4 L656.4,186.2 L657.1,186.4 L657.9,186.4 L658.6,186.2 L659.4,186.3 L660.1,186.3 L660.9,186.5 L661.6,186.2 L662.4,186.4 L663.1,186.4 L663.8,186.2 L664.6,186.2 L665.3,186.4 L666.1,186.3 L666.8,186.4 L667.6,186.4 L668.3,186.4 L669.1,186.1 L669.8,186.5 L670.6,186.2 L671.3,186.2 L672.1,186.3 L672.8,186.5 L673.6,186.5 L674.3,186.4 L675.0,186.2 L675.8,186.2 L676.5,186.3 L677.3,186.2 L678.0,186.6 L678.8,186.3 L679.5,186.5 L680.3,186.5 L681.0,186.5 L681.8,186.4 L682.5,186.4 L683.3,186.5 L684.0,186.5 L684.7,186.5 L685.5,186.5 L686.2,186.5 L687.0,186.4 L687.7,186.3 L688.5,186.5 L689.2,186.3 L690.0,186.2 L690.7,186.3 L691.5,186.5 L692.2,186.3 L693.0,186.2 L693.7,186.5 L694.5,186.5 L695.2,186.3 L695.9,186.4 L696.7,186.4 L697.4,186.2 L698.2,186.4 L698.9,186.2 L699.7,186.3 L700.4,185.9 L701.2,186.0 L701.9,185.6 L702.7,185.5 L703.4,185.9 L704.2,186.1 L704.9,186.0 L705.7,186.3 L706.4,186.2 L707.1,186.4 L707.9,186.2 L708.6,186.5 L709.4,186.5 L710.1,186.2 L710.9,186.4 L711.6,186.2 L712.4,186.5 L713.1,186.2 L713.9,186.3 L714.6,186.4 L715.4,186.3 L716.1,186.3 L716.8,186.2 L717.6,186.5" fill="none" stroke="#4a86c0" stroke-width="1" stroke-linejoin="round"/>
<text x="728.30" y="189.60" font-size="11.1" text-anchor="start" font-family="Liberation Sans, Arial, sans-serif" fill="#000" >C</text>
<path d="M428.7,168.6 L429.4,164.7 L430.2,161.5 L430.9,161.6 L431.7,162.0 L432.4,161.8 L433.2,162.1 L433.9,162.2 L434.7,162.4 L435.4,162.4 L436.2,162.5 L436.9,162.6 L437.7,162.8 L438.4,162.7 L439.1,162.7 L439.9,162.7 L440.6,163.0 L441.4,162.8 L442.1,162.9 L442.9,163.1 L443.6,163.0 L444.4,163.2 L445.1,162.9 L445.9,162.9 L446.6,162.9 L447.4,163.1 L448.1,163.2 L448.9,162.9 L449.6,163.3 L450.3,163.2 L451.1,163.0 L451.8,163.0 L452.6,163.2 L453.3,163.0 L454.1,163.2 L454.8,162.9 L455.6,163.1 L456.3,163.2 L456.6,163.0 L456.8,163.2 L457.1,163.3 L457.3,162.9 L457.6,163.1 L457.8,162.8 L458.1,162.9 L458.3,162.8 L458.6,162.9 L458.8,163.0 L459.1,163.1 L459.3,162.8 L459.6,163.0 L459.8,162.8 L460.1,162.9 L460.3,162.7 L460.5,162.8 L460.8,162.8 L461.0,162.5 L461.3,162.5 L461.5,162.4 L461.8,162.5 L462.0,162.2 L462.3,162.2 L462.5,161.9 L462.8,161.8 L463.0,161.7 L463.3,161.5 L463.5,160.9 L463.8,160.9 L464.0,160.4 L464.3,160.0 L464.5,159.2 L464.8,158.5 L465.0,158.0 L465.3,157.4 L465.5,156.8 L465.8,156.4 L466.0,156.4 L466.3,156.5 L466.5,156.7 L466.8,157.3 L467.0,158.0 L467.3,158.9 L467.5,159.3 L467.8,159.7 L468.0,160.4 L468.3,160.8 L468.5,161.3 L468.8,161.5 L469.0,161.6 L469.3,161.8 L469.5,162.1 L469.8,162.1 L470.0,162.3 L470.3,162.5 L470.5,162.4 L470.8,162.5 L471.0,162.8 L471.2,162.5 L471.5,162.9 L471.7,162.9 L472.0,162.9 L472.2,163.0 L472.5,163.0 L472.7,162.8 L473.0,163.0 L473.2,163.1 L473.5,163.1 L473.7,162.9 L474.0,163.1 L474.2,163.2 L474.5,163.2 L474.7,163.3 L475.0,162.9 L475.2,163.1 L475.5,163.1 L475.7,163.2 L476.0,163.1 L476.2,163.3 L477.0,163.1 L477.7,163.2 L478.5,163.2 L479.2,163.1 L480.0,163.1 L480.7,163.4 L481.5,163.1 L482.2,163.4 L482.9,163.3 L483.7,163.1 L484.4,163.3 L485.2,163.3 L485.9,163.2 L486.7,163.4 L487.4,163.3 L488.2,163.1 L488.4,163.0 L488.7,163.0 L488.9,163.1 L489.2,162.9 L489.4,163.0 L489.7,163.3 L489.9,163.0 L490.2,162.9 L490.4,163.0 L490.7,163.1 L490.9,162.8 L491.2,162.7 L491.4,162.6 L491.7,162.6 L491.9,162.7 L492.2,162.5 L492.4,162.5 L492.6,162.2 L492.9,162.2 L493.1,161.8 L493.4,161.6 L493.6,161.0 L493.9,160.6 L494.1,159.8 L494.4,158.8 L494.6,157.4 L494.9,155.9 L495.1,154.2 L495.4,153.1 L495.6,152.4 L495.9,152.7 L496.1,154.1 L496.4,156.0 L496.6,157.6 L496.9,158.6 L497.1,159.9 L497.4,160.7 L497.6,160.9 L497.9,161.4 L498.1,161.9 L498.4,161.8 L498.6,162.1 L498.9,162.1 L499.1,162.1 L499.4,162.2 L499.6,162.4 L499.9,162.2 L500.1,162.6 L500.4,162.4 L500.6,162.7 L500.9,162.5 L501.1,162.7 L501.4,162.8 L501.6,162.8 L501.9,163.0 L502.1,163.1 L502.4,163.2 L502.6,163.1 L502.9,163.0 L503.1,163.3 L503.3,163.1 L504.1,163.2 L504.8,163.0 L505.6,163.3 L506.3,163.1 L507.1,163.3 L507.8,163.3 L508.6,163.2 L509.3,163.2 L510.1,163.3 L510.8,163.3 L511.6,163.2 L512.3,163.4 L513.1,163.5 L513.8,163.5 L514.5,163.3 L515.3,163.4 L516.0,163.4 L516.8,163.5 L517.5,163.3 L518.3,163.3 L519.0,163.5 L519.8,163.4 L520.5,163.5 L521.3,163.3 L522.0,163.5 L522.8,163.5 L523.5,163.5 L524.3,163.3 L525.0,163.6 L525.7,163.4 L526.5,163.2 L527.2,163.3 L528.0,163.3 L528.7,163.2 L529.5,163.2 L530.2,163.2 L531.0,163.3 L531.7,163.4 L532.5,163.4 L533.2,163.3 L534.0,163.5 L534.7,163.6 L535.4,163.4 L536.2,163.2 L536.9,163.5 L537.7,163.3 L538.4,163.3 L539.2,163.5 L539.9,163.3 L540.7,163.3 L541.4,163.5 L542.2,163.5 L542.9,163.5 L543.7,163.3 L544.4,163.5 L545.2,163.3 L545.9,163.5 L546.6,163.4 L547.4,163.4 L548.1,163.6 L548.9,163.3 L549.6,163.3 L550.4,163.3 L551.1,163.2 L551.9,163.2 L552.6,163.3 L553.4,163.4 L554.1,163.2 L554.9,163.4 L555.6,163.6 L556.4,163.2 L557.1,163.5 L557.8,163.3 L558.6,163.2 L559.3,163.5 L560.1,163.2 L560.8,163.3 L561.6,163.4 L562.3,163.4 L563.1,163.2 L563.8,163.4 L564.6,163.5 L565.3,163.2 L566.1,163.2 L566.8,163.2 L567.5,163.3 L568.3,163.3 L569.0,163.5 L569.8,163.3 L570.5,163.2 L571.3,163.5 L572.0,163.5 L572.8,163.4 L573.5,163.5 L574.3,163.3 L575.0,163.4 L575.8,163.2 L576.5,163.2 L577.3,163.3 L578.0,163.2 L578.7,163.4 L579.5,163.3 L580.2,163.2 L581.0,163.6 L581.7,163.3 L582.5,163.2 L583.2,163.4 L584.0,163.5 L584.7,163.4 L585.5,163.5 L586.2,163.2 L587.0,163.2 L587.7,163.5 L588.4,163.2 L589.2,163.3 L589.9,163.5 L590.7,163.5 L591.4,163.5 L592.2,163.3 L592.9,163.2 L593.7,163.5 L594.4,163.4 L595.2,163.2 L595.9,163.3 L596.7,163.4 L597.4,163.4 L598.2,163.1 L598.9,163.1 L599.6,163.3 L600.4,162.9 L601.1,163.1 L601.9,162.7 L602.6,162.8 L603.4,162.6 L604.1,162.7 L604.9,162.9 L605.6,162.7 L606.4,163.0 L607.1,162.9 L607.9,163.3 L608.6,163.0 L609.4,163.3 L610.1,163.4 L610.8,163.1 L611.6,163.1 L612.3,163.2 L613.1,163.2 L613.8,163.2 L614.6,163.1 L615.3,163.0 L616.1,163.0 L616.8,163.3 L617.6,163.2 L618.3,163.3 L619.1,162.9 L619.8,162.9 L620.5,162.8 L621.3,163.1 L622.0,162.8 L622.8,162.6 L623.5,162.5 L624.3,162.5 L624.5,162.3 L624.8,162.6 L625.0,162.4 L625.3,162.4 L625.5,162.4 L625.8,162.3 L626.0,162.1 L626.3,161.9 L626.5,161.7 L626.8,161.9 L627.0,161.4 L627.3,161.6 L627.5,161.1 L627.8,161.0 L628.0,160.5 L628.3,160.3 L628.5,159.5 L628.8,159.0 L629.0,158.3 L629.3,157.1 L629.5,156.0 L629.8,154.7 L630.0,152.9 L630.3,150.9 L630.5,148.8 L630.8,146.4 L631.0,143.9 L631.2,141.2 L631.5,138.1 L631.7,135.7 L632.0,133.6 L632.2,132.3 L632.5,132.0 L632.7,132.4 L633.0,133.6 L633.2,135.6 L633.5,138.5 L633.7,140.8 L634.0,143.7 L634.2,146.2 L634.5,148.9 L634.7,150.9 L635.0,152.8 L635.2,154.8 L635.5,156.0 L635.7,157.2 L636.0,158.4 L636.2,159.2 L636.5,159.5 L636.7,160.1 L637.0,160.6 L637.2,160.9 L637.5,161.0 L637.7,161.4 L638.0,161.5 L638.2,161.6 L638.5,161.9 L638.7,162.0 L639.0,162.1 L639.2,162.3 L639.5,162.4 L639.7,162.3 L640.0,162.4 L640.2,162.4 L640.5,162.3 L640.7,162.3 L641.0,162.4 L641.2,162.5 L641.5,162.6 L642.2,162.9 L642.9,162.7 L643.7,162.9 L644.4,163.0 L645.2,163.1 L645.9,163.1 L646.7,163.2 L647.4,162.9 L648.2,163.3 L648.9,163.2 L649.7,163.2 L650.4,163.2 L651.2,163.3 L651.9,163.4 L652.6,163.4 L653.4,163.3 L654.1,163.3 L654.9,163.5 L655.6,163.5 L656.4,163.2 L657.1,163.3 L657.9,163.4 L658.6,163.2 L659.4,163.4 L660.1,163.4 L660.9,163.1 L661.6,163.3 L662.4,163.5 L663.1,163.2 L663.8,163.2 L664.6,163.5 L665.3,163.4 L666.1,163.1 L666.8,163.5 L667.6,163.3 L668.3,163.4 L669.1,163.4 L669.8,163.5 L670.6,163.3 L671.3,163.3 L672.1,163.4 L672.8,163.4 L673.6,163.5 L674.3,163.4 L675.0,163.2 L675.8,163.4 L676.5,163.3 L677.3,163.4 L678.0,163.5 L678.8,163.5 L679.5,163.2 L680.3,163.4 L681.0,163.4 L681.8,163.5 L682.5,163.4 L683.3,163.3 L684.0,163.5 L684.7,163.5 L685.5,163.4 L686.2,163.2 L687.0,163.4 L687.7,163.5 L688.5,163.3 L689.2,163.4 L690.0,163.4 L690.7,163.2 L691.5,163.3 L692.2,163.2 L693.0,163.4 L693.7,163.4 L694.5,163.3 L695.2,163.3 L695.9,163.2 L696.7,163.4 L697.4,163.3 L698.2,163.2 L698.9,163.4 L699.7,163.3 L700.4,162.9 L701.2,162.6 L701.9,162.8 L702.7,162.5 L703.4,162.6 L704.2,163.0 L704.9,163.3 L705.7,163.4 L706.4,163.4 L707.1,163.1 L707.9,163.3 L708.6,163.5 L709.4,163.5 L710.1,163.5 L710.9,163.5 L711.6,163.5 L712.4,163.4 L713.1,163.2 L713.9,163.5 L714.6,163.3 L715.4,163.4 L716.1,163.5 L716.8,163.6 L717.6,163.4" fill="none" stroke="#66b496" stroke-width="1" stroke-linejoin="round"/>
<text x="728.30" y="166.60" font-size="11.1" text-anchor="start" font-family="Liberation Sans, Arial, sans-serif" fill="#000" >D</text>
<path d="M428.7,145.5 L429.4,141.9 L430.2,138.4 L430.9,138.5 L431.7,138.6 L432.4,138.9 L433.2,139.2 L433.9,139.3 L434.7,139.3 L435.4,139.1 L436.2,139.3 L436.9,139.4 L437.7,139.4 L438.4,139.4 L439.1,139.6 L439.9,139.6 L440.6,139.8 L441.4,139.6 L442.1,139.7 L442.9,139.7 L443.6,139.9 L444.4,139.8 L445.1,140.0 L445.9,139.9 L446.6,139.8 L447.4,139.6 L448.1,139.7 L448.9,139.6 L449.6,139.7 L450.3,140.0 L451.1,139.6 L451.8,139.6 L452.6,139.7 L453.3,139.5 L454.1,139.7 L454.8,139.4 L455.6,139.5 L456.3,139.3 L456.6,139.2 L456.8,139.0 L457.1,138.9 L457.3,138.8 L457.6,138.7 L457.8,138.8 L458.1,138.8 L458.3,138.7 L458.6,138.4 L458.8,138.3 L459.1,138.1 L459.3,138.1 L459.6,137.9 L459.8,137.9 L460.1,137.7 L460.3,137.3 L460.5,137.2 L460.8,136.8 L461.0,136.4 L461.3,136.4 L461.5,135.9 L461.8,135.4 L462.0,134.8 L462.3,134.1 L462.5,133.6 L462.8,132.7 L463.0,131.6 L463.3,130.6 L463.5,129.3 L463.8,127.8 L464.0,125.9 L464.3,123.9 L464.5,121.9 L464.8,119.7 L465.0,117.4 L465.3,115.1 L465.5,113.4 L465.8,112.2 L466.0,111.6 L466.3,112.1 L466.5,113.3 L466.8,115.3 L467.0,117.2 L467.3,119.5 L467.5,122.0 L467.8,124.2 L468.0,126.2 L468.3,127.9 L468.5,129.1 L468.8,130.7 L469.0,131.7 L469.3,132.6 L469.5,133.6 L469.8,134.2 L470.0,134.8 L470.3,135.3 L470.5,135.7 L470.8,136.4 L471.0,136.6 L471.2,136.8 L471.5,137.2 L471.7,137.4 L472.0,137.5 L472.2,137.6 L472.5,137.8 L472.7,138.3 L473.0,138.2 L473.2,138.3 L473.5,138.5 L473.7,138.6 L474.0,138.7 L474.2,138.7 L474.5,139.0 L474.7,139.0 L475.0,138.9 L475.2,139.3 L475.5,139.0 L475.7,139.1 L476.0,139.1 L476.2,139.2 L477.0,139.3 L477.7,139.5 L478.5,139.7 L479.2,139.7 L480.0,139.6 L480.7,139.9 L481.5,139.9 L482.2,139.7 L482.9,139.9 L483.7,139.8 L484.4,139.9 L485.2,139.8 L485.9,139.7 L486.7,139.6 L487.4,139.7 L488.2,139.5 L488.4,139.7 L488.7,139.4 L488.9,139.3 L489.2,139.3 L489.4,139.3 L489.7,139.5 L489.9,139.3 L490.2,139.0 L490.4,139.3 L490.7,138.8 L490.9,139.1 L491.2,138.6 L491.4,138.5 L491.7,138.5 L491.9,138.4 L492.2,138.1 L492.4,137.6 L492.6,137.2 L492.9,136.8 L493.1,136.3 L493.4,135.4 L493.6,134.5 L493.9,133.3 L494.1,131.7 L494.4,130.0 L494.6,127.7 L494.9,125.7 L495.1,123.5 L495.4,121.9 L495.6,121.6 L495.9,121.9 L496.1,123.6 L496.4,125.4 L496.6,127.7 L496.9,129.4 L497.1,131.1 L497.4,132.7 L497.6,133.7 L497.9,134.4 L498.1,134.8 L498.4,135.0 L498.6,135.0 L498.9,135.0 L499.1,134.9 L499.4,134.7 L499.6,134.2 L499.9,134.0 L500.1,134.0 L500.4,134.2 L500.6,134.3 L500.9,134.9 L501.1,135.6 L501.4,136.0 L501.6,136.7 L501.9,137.4 L502.1,137.8 L502.4,138.2 L502.6,138.5 L502.9,138.8 L503.1,139.1 L503.3,139.2 L504.1,139.3 L504.8,139.7 L505.6,139.7 L506.3,139.9 L507.1,140.0 L507.8,140.0 L508.6,140.2 L509.3,140.0 L510.1,140.2 L510.8,140.1 L511.6,140.2 L512.3,140.1 L513.1,140.1 L513.8,140.3 L514.5,140.0 L515.3,140.2 L516.0,140.3 L516.8,140.4 L517.5,140.3 L518.3,140.3 L519.0,140.1 L519.8,140.1 L520.5,140.1 L521.3,140.2 L522.0,140.4 L522.8,140.5 L523.5,140.3 L524.3,140.5 L525.0,140.5 L525.7,140.5 L526.5,140.2 L527.2,140.3 L528.0,140.4 L528.7,140.5 L529.5,140.3 L530.2,140.2 L531.0,140.5 L531.7,140.3 L532.5,140.2 L533.2,140.3 L534.0,140.2 L534.7,140.5 L535.4,140.4 L536.2,140.2 L536.9,140.4 L537.7,140.3 L538.4,140.4 L539.2,140.5 L539.9,140.5 L540.7,140.3 L541.4,140.5 L542.2,140.5 L542.9,140.3 L543.7,140.2 L544.4,140.2 L545.2,140.3 L545.9,140.5 L546.6,140.2 L547.4,140.4 L548.1,140.3 L548.9,140.2 L549.6,140.5 L550.4,140.3 L551.1,140.5 L551.9,140.3 L552.6,140.5 L553.4,140.4 L554.1,140.3 L554.9,140.4 L555.6,140.5 L556.4,140.2 L557.1,140.5 L557.8,140.4 L558.6,140.5 L559.3,140.3 L560.1,140.3 L560.8,140.3 L561.6,140.2 L562.3,140.2 L563.1,140.2 L563.8,140.4 L564.6,140.4 L565.3,140.2 L566.1,140.4 L566.8,140.2 L567.5,140.5 L568.3,140.2 L569.0,140.3 L569.8,140.4 L570.5,140.3 L571.3,140.5 L572.0,140.4 L572.8,140.5 L573.5,140.3 L574.3,140.2 L575.0,140.4 L575.8,140.5 L576.5,140.3 L577.3,140.5 L578.0,140.2 L578.7,140.4 L579.5,140.2 L580.2,140.2 L581.0,140.4 L581.7,140.4 L582.5,140.4 L583.2,140.3 L584.0,140.5 L584.7,140.3 L585.5,140.5 L586.2,140.2 L587.0,140.3 L587.7,140.4 L588.4,140.2 L589.2,140.3 L589.9,140.2 L590.7,140.3 L591.4,140.5 L592.2,140.3 L592.9,140.2 L593.7,140.3 L594.4,140.3 L595.2,140.2 L595.9,140.2 L596.7,140.2 L597.4,140.4 L598.2,140.1 L598.9,140.1 L599.6,140.0 L600.4,139.9 L601.1,140.0 L601.9,140.0 L602.6,139.5 L603.4,139.5 L604.1,139.7 L604.9,139.7 L605.6,139.6 L606.4,139.8 L607.1,140.0 L607.9,140.1 L608.6,140.1 L609.4,140.2 L610.1,140.0 L610.8,140.3 L611.6,140.1 L612.3,140.1 L613.1,140.2 L613.8,140.1 L614.6,140.2 L615.3,139.9 L616.1,140.1 L616.8,139.9 L617.6,139.8 L618.3,139.9 L619.1,140.0 L619.8,139.8 L620.5,139.8 L621.3,139.6 L622.0,139.4 L622.8,139.5 L623.5,139.1 L624.3,139.2 L624.5,139.0 L624.8,138.8 L625.0,138.6 L625.3,138.7 L625.5,138.4 L625.8,138.3 L626.0,138.2 L626.3,138.0 L626.5,138.0 L626.8,137.6 L627.0,137.5 L627.3,137.0 L627.5,136.8 L627.8,136.2 L628.0,135.7 L628.3,134.8 L628.5,134.0 L628.8,133.1 L629.0,131.8 L629.3,130.3 L629.5,128.2 L629.8,126.1 L630.0,123.4 L630.3,120.4 L630.5,117.2 L630.8,113.8 L631.0,110.1 L631.2,106.3 L631.5,102.9 L631.7,99.5 L632.0,96.6 L632.2,95.2 L632.5,94.5 L632.7,95.0 L633.0,96.8 L633.2,99.3 L633.5,102.5 L633.7,106.6 L634.0,110.4 L634.2,113.8 L634.5,117.5 L634.7,120.6 L635.0,123.3 L635.2,126.1 L635.5,128.1 L635.7,130.1 L636.0,131.6 L636.2,133.0 L636.5,133.9 L636.7,134.7 L637.0,135.7 L637.2,136.3 L637.5,136.4 L637.7,136.9 L638.0,137.2 L638.2,137.4 L638.5,137.7 L638.7,138.1 L639.0,138.2 L639.2,138.5 L639.5,138.7 L639.7,138.7 L640.0,138.8 L640.2,138.7 L640.5,139.0 L640.7,139.2 L641.0,139.0 L641.2,139.2 L641.5,139.0 L642.2,139.2 L642.9,139.3 L643.7,139.6 L644.4,139.5 L645.2,139.6 L645.9,139.7 L646.7,140.0 L647.4,139.9 L648.2,140.0 L648.9,140.0 L649.7,139.9 L650.4,139.9 L651.2,140.2 L651.9,140.1 L652.6,140.3 L653.4,140.1 L654.1,140.3 L654.9,140.0 L655.6,140.0 L656.4,140.0 L657.1,140.0 L657.9,140.0 L658.6,139.9 L659.4,139.7 L660.1,139.6 L660.9,139.9 L661.6,139.6 L662.4,139.6 L663.1,139.6 L663.8,139.3 L664.6,139.5 L665.3,139.6 L666.1,139.7 L666.8,139.9 L667.6,140.0 L668.3,140.0 L669.1,140.0 L669.8,140.0 L670.6,140.0 L671.3,140.2 L672.1,140.2 L672.8,140.2 L673.6,140.4 L674.3,140.4 L675.0,140.3 L675.8,140.4 L676.5,140.3 L677.3,140.2 L678.0,140.2 L678.8,140.1 L679.5,140.2 L680.3,140.5 L681.0,140.1 L681.8,140.5 L682.5,140.2 L683.3,140.2 L684.0,140.2 L684.7,140.5 L685.5,140.5 L686.2,140.4 L687.0,140.2 L687.7,140.3 L688.5,140.2 L689.2,140.2 L690.0,140.3 L690.7,140.4 L691.5,140.2 L692.2,140.3 L693.0,140.3 L693.7,140.5 L694.5,140.3 L695.2,140.2 L695.9,140.4 L696.7,140.1 L697.4,140.3 L698.2,140.5 L698.9,140.4 L699.7,140.3 L700.4,140.0 L701.2,139.8 L701.9,139.7 L702.7,139.4 L703.4,139.9 L704.2,140.1 L704.9,140.1 L705.7,140.3 L706.4,140.3 L707.1,140.4 L707.9,140.2 L708.6,140.5 L709.4,140.2 L710.1,140.4 L710.9,140.3 L711.6,140.6 L712.4,140.2 L713.1,140.3 L713.9,140.5 L714.6,140.3 L715.4,140.4 L716.1,140.2 L716.8,140.3 L717.6,140.6" fill="none" stroke="#c4a0d8" stroke-width="1" stroke-linejoin="round"/>
<text x="728.30" y="143.60" font-size="11.1" text-anchor="start" font-family="Liberation Sans, Arial, sans-serif" fill="#000" >E</text>
<path d="M428.7,121.9 L429.4,118.1 L430.2,114.8 L430.9,115.1 L431.7,115.1 L432.4,115.2 L433.2,115.2 L433.9,115.6 L434.7,115.4 L435.4,115.8 L436.2,115.7 L436.9,115.7 L437.7,116.0 L438.4,115.7 L439.1,116.0 L439.9,116.0 L440.6,116.1 L441.4,116.2 L442.1,115.9 L442.9,116.1 L443.6,115.9 L444.4,116.1 L445.1,115.9 L445.9,115.9 L446.6,115.9 L447.4,116.1 L448.1,116.2 L448.9,115.8 L449.6,116.1 L450.3,115.8 L451.1,115.7 L451.8,115.9 L452.6,115.7 L453.3,115.4 L454.1,115.4 L454.8,115.3 L455.6,115.0 L456.3,114.9 L456.6,114.7 L456.8,114.9 L457.1,114.5 L457.3,114.4 L457.6,114.6 L457.8,114.4 L458.1,114.1 L458.3,113.8 L458.6,114.0 L458.8,113.5 L459.1,113.4 L459.3,113.2 L459.6,113.0 L459.8,112.7 L460.1,112.5 L460.3,112.0 L460.5,111.7 L460.8,111.4 L461.0,110.6 L461.3,110.2 L461.5,109.4 L461.8,108.9 L462.0,108.0 L462.3,106.8 L462.5,105.9 L462.8,104.5 L463.0,102.6 L463.3,100.7 L463.5,98.7 L463.8,96.1 L464.0,92.9 L464.3,89.8 L464.5,85.8 L464.8,81.6 L465.0,77.2 L465.3,73.3 L465.5,69.4 L465.8,67.1 L466.0,66.2 L466.3,67.0 L466.5,69.5 L466.8,73.2 L467.0,77.1 L467.3,81.5 L467.5,85.7 L467.8,89.7 L468.0,93.2 L468.3,96.1 L468.5,98.7 L468.8,100.9 L469.0,102.8 L469.3,104.3 L469.5,105.9 L469.8,107.1 L470.0,108.0 L470.3,108.8 L470.5,109.5 L470.8,110.2 L471.0,110.5 L471.2,111.1 L471.5,111.6 L471.7,111.9 L472.0,112.3 L472.2,112.9 L472.5,112.8 L472.7,113.2 L473.0,113.4 L473.2,113.8 L473.5,113.7 L473.7,114.0 L474.0,114.3 L474.2,114.3 L474.5,114.3 L474.7,114.7 L475.0,114.5 L475.2,114.7 L475.5,114.9 L475.7,115.1 L476.0,114.9 L476.2,115.0 L477.0,115.2 L477.7,115.4 L478.5,115.6 L479.2,115.6 L480.0,115.6 L480.7,115.9 L481.5,115.7 L482.2,115.8 L482.9,116.0 L483.7,115.9 L484.4,115.8 L485.2,115.6 L485.9,115.7 L486.7,115.6 L487.4,115.7 L488.2,115.5 L488.4,115.5 L488.7,115.2 L488.9,115.1 L489.2,114.9 L489.4,115.2 L489.7,114.9 L489.9,114.9 L490.2,114.7 L490.4,114.4 L490.7,114.3 L490.9,114.2 L491.2,113.7 L491.4,113.5 L491.7,113.3 L491.9,113.0 L492.2,112.4 L492.4,112.0 L492.6,111.0 L492.9,110.5 L493.1,109.3 L493.4,108.3 L493.6,106.8 L493.9,105.3 L494.1,103.3 L494.4,101.5 L494.6,99.5 L494.9,97.4 L495.1,95.7 L495.4,94.5 L495.6,94.0 L495.9,94.5 L496.1,95.6 L496.4,97.2 L496.6,99.0 L496.9,100.8 L497.1,102.4 L497.4,104.3 L497.6,105.4 L497.9,106.3 L498.1,106.7 L498.4,107.3 L498.6,107.3 L498.9,107.4 L499.1,106.7 L499.4,106.2 L499.6,105.6 L499.9,105.3 L500.1,105.2 L500.4,105.5 L500.6,106.1 L500.9,107.1 L501.1,108.0 L501.4,109.2 L501.6,110.4 L501.9,111.4 L502.1,111.9 L502.4,112.6 L502.6,113.5 L502.9,113.6 L503.1,114.0 L503.3,114.4 L504.1,115.0 L504.8,115.6 L505.6,115.8 L506.3,116.0 L507.1,115.9 L507.8,116.3 L508.6,116.3 L509.3,116.2 L510.1,116.3 L510.8,116.5 L511.6,116.5 L512.3,116.5 L513.1,116.3 L513.8,116.5 L514.5,116.4 L515.3,116.7 L516.0,116.5 L516.8,116.4 L517.5,116.4 L518.3,116.7 L519.0,116.6 L519.8,116.6 L520.5,116.6 L521.3,116.6 L522.0,116.6 L522.8,116.7 L523.5,116.7 L524.3,116.7 L525.0,116.7 L525.7,116.7 L526.5,116.6 L527.2,116.7 L528.0,116.6 L528.7,116.7 L529.5,116.8 L530.2,116.5 L531.0,116.6 L531.7,116.6 L532.5,116.5 L533.2,116.8 L534.0,116.8 L534.7,116.9 L535.4,116.7 L536.2,116.8 L536.9,116.6 L537.7,116.5 L538.4,116.7 L539.2,116.7 L539.9,116.6 L540.7,116.6 L541.4,116.9 L542.2,116.6 L542.9,116.7 L543.7,116.8 L544.4,116.6 L545.2,116.9 L545.9,116.8 L546.6,116.6 L547.4,116.9 L548.1,116.8 L548.9,116.8 L549.6,116.6 L550.4,116.7 L551.1,116.8 L551.9,116.7 L552.6,116.9 L553.4,116.7 L554.1,116.7 L554.9,116.7 L555.6,116.9 L556.4,116.9 L557.1,116.9 L557.8,116.7 L558.6,116.7 L559.3,116.6 L560.1,116.9 L560.8,116.7 L561.6,116.9 L562.3,116.8 L563.1,116.8 L563.8,116.9 L564.6,116.7 L565.3,116.6 L566.1,116.8 L566.8,116.9 L567.5,116.6 L568.3,116.7 L569.0,116.6 L569.8,116.6 L570.5,116.7 L571.3,116.9 L572.0,116.6 L572.8,116.8 L573.5,116.6 L574.3,116.8 L575.0,116.7 L575.8,116.6 L576.5,116.9 L577.3,116.7 L578.0,116.8 L578.7,116.8 L579.5,116.7 L580.2,116.8 L581.0,116.7 L581.7,116.6 L582.5,116.6 L583.2,116.8 L584.0,116.9 L584.7,116.6 L585.5,116.9 L586.2,116.7 L587.0,116.5 L587.7,116.8 L588.4,116.6 L589.2,116.6 L589.9,116.6 L590.7,116.6 L591.4,116.6 L592.2,116.7 L592.9,116.6 L593.7,116.5 L594.4,116.7 L595.2,116.7 L595.9,116.8 L596.7,116.7 L597.4,116.7 L598.2,116.7 L598.9,116.7 L599.6,116.5 L600.4,116.4 L601.1,116.5 L601.9,116.2 L602.6,115.9 L603.4,116.0 L604.1,116.1 L604.9,116.3 L605.6,116.2 L606.4,116.4 L607.1,116.7 L607.9,116.4 L608.6,116.5 L609.4,116.7 L610.1,116.4 L610.8,116.5 L611.6,116.6 L612.3,116.6 L613.1,116.6 L613.8,116.5 L614.6,116.7 L615.3,116.4 L616.1,116.6 L616.8,116.3 L617.6,116.6 L618.3,116.3 L619.1,116.2 L619.8,116.4 L620.5,116.1 L621.3,116.3 L622.0,116.2 L622.8,116.2 L623.5,115.9 L624.3,115.8 L624.5,115.6 L624.8,115.4 L625.0,115.6 L625.3,115.6 L625.5,115.3 L625.8,115.2 L626.0,115.2 L626.3,114.8 L626.5,114.8 L626.8,114.5 L627.0,114.4 L627.3,114.4 L627.5,113.9 L627.8,113.7 L628.0,113.1 L628.3,112.4 L628.5,112.1 L628.8,111.1 L629.0,110.2 L629.3,109.0 L629.5,108.0 L629.8,106.5 L630.0,104.7 L630.3,102.7 L630.5,100.9 L630.8,98.6 L631.0,96.3 L631.2,93.8 L631.5,91.8 L631.7,89.6 L632.0,88.1 L632.2,87.0 L632.5,86.8 L632.7,87.1 L633.0,88.0 L633.2,89.5 L633.5,91.9 L633.7,94.0 L634.0,96.2 L634.2,98.4 L634.5,100.8 L634.7,102.7 L635.0,104.8 L635.2,106.4 L635.5,107.8 L635.7,109.2 L636.0,110.1 L636.2,111.0 L636.5,111.9 L636.7,112.4 L637.0,113.2 L637.2,113.8 L637.5,114.1 L637.7,114.3 L638.0,114.6 L638.2,114.6 L638.5,114.9 L638.7,115.0 L639.0,115.2 L639.2,115.1 L639.5,115.4 L639.7,115.3 L640.0,115.4 L640.2,115.5 L640.5,115.8 L640.7,115.8 L641.0,115.9 L641.2,115.9 L641.5,115.7 L642.2,116.2 L642.9,115.9 L643.7,116.1 L644.4,116.3 L645.2,116.4 L645.9,116.4 L646.7,116.5 L647.4,116.5 L648.2,116.5 L648.9,116.4 L649.7,116.6 L650.4,116.7 L651.2,116.4 L651.9,116.5 L652.6,116.5 L653.4,116.5 L654.1,116.4 L654.9,116.6 L655.6,116.2 L656.4,116.3 L657.1,116.3 L657.9,116.2 L658.6,116.1 L659.4,116.0 L660.1,115.9 L660.9,115.7 L661.6,115.3 L662.4,115.4 L663.1,115.3 L663.8,115.0 L664.6,115.2 L665.3,115.5 L666.1,115.5 L666.8,115.7 L667.6,115.8 L668.3,115.9 L669.1,116.0 L669.8,116.3 L670.6,116.5 L671.3,116.3 L672.1,116.5 L672.8,116.7 L673.6,116.7 L674.3,116.6 L675.0,116.4 L675.8,116.6 L676.5,116.8 L677.3,116.7 L678.0,116.8 L678.8,116.6 L679.5,116.6 L680.3,116.9 L681.0,116.5 L681.8,116.6 L682.5,116.8 L683.3,116.8 L684.0,116.6 L684.7,116.7 L685.5,116.7 L686.2,116.9 L687.0,116.7 L687.7,116.6 L688.5,116.8 L689.2,116.7 L690.0,116.9 L690.7,116.7 L691.5,116.8 L692.2,116.6 L693.0,116.8 L693.7,116.7 L694.5,116.8 L695.2,116.9 L695.9,116.9 L696.7,116.8 L697.4,116.6 L698.2,116.7 L698.9,116.7 L699.7,116.4 L700.4,116.4 L701.2,116.4 L701.9,115.9 L702.7,116.1 L703.4,116.1 L704.2,116.4 L704.9,116.3 L705.7,116.4 L706.4,116.8 L707.1,116.7 L707.9,116.8 L708.6,116.9 L709.4,116.9 L710.1,116.6 L710.9,116.7 L711.6,116.9 L712.4,116.7 L713.1,117.0 L713.9,116.7 L714.6,117.0 L715.4,116.9 L716.1,116.7 L716.8,116.8 L717.6,116.9" fill="none" stroke="#d8b856" stroke-width="1" stroke-linejoin="round"/>
<text x="728.30" y="120.00" font-size="11.1" text-anchor="start" font-family="Liberation Sans, Arial, sans-serif" fill="#000" >F</text>
<path d="M428.7,98.9 L429.4,95.1 L430.2,92.0 L430.9,92.1 L431.7,92.3 L432.4,92.4 L433.2,92.3 L433.9,92.6 L434.7,92.7 L435.4,92.5 L436.2,92.6 L436.9,92.9 L437.7,92.8 L438.4,92.9 L439.1,92.8 L439.9,92.7 L440.6,92.7 L441.4,92.8 L442.1,92.7 L442.9,92.7 L443.6,92.9 L444.4,92.6 L445.1,92.9 L445.9,92.6 L446.6,92.8 L447.4,92.4 L448.1,92.5 L448.9,92.5 L449.6,92.3 L450.3,92.3 L451.1,92.1 L451.8,92.0 L452.6,91.8 L453.3,91.5 L454.1,91.2 L454.8,90.9 L455.6,90.2 L456.3,90.0 L456.6,89.7 L456.8,89.6 L457.1,89.3 L457.3,88.8 L457.6,88.7 L457.8,88.5 L458.1,88.3 L458.3,87.7 L458.6,87.2 L458.8,87.0 L459.1,86.7 L459.3,86.2 L459.6,85.8 L459.8,85.0 L460.1,84.3 L460.3,83.6 L460.5,83.0 L460.8,82.0 L461.0,81.0 L461.3,79.9 L461.5,78.5 L461.8,77.5 L462.0,75.8 L462.3,74.0 L462.5,72.2 L462.8,70.3 L463.0,67.8 L463.3,65.5 L463.5,62.6 L463.8,59.7 L464.0,56.4 L464.3,53.2 L464.5,49.7 L464.8,46.7 L465.0,43.6 L465.3,40.6 L465.5,38.6 L465.8,37.4 L466.0,37.0 L466.3,37.2 L466.5,38.8 L466.8,40.9 L467.0,43.6 L467.3,46.5 L467.5,49.8 L467.8,53.2 L468.0,56.6 L468.3,59.6 L468.5,62.6 L468.8,65.2 L469.0,67.8 L469.3,70.1 L469.5,72.4 L469.8,74.1 L470.0,75.9 L470.3,77.3 L470.5,78.8 L470.8,79.7 L471.0,80.9 L471.2,81.7 L471.5,82.9 L471.7,83.6 L472.0,84.4 L472.2,85.1 L472.5,85.5 L472.7,86.1 L473.0,86.6 L473.2,86.9 L473.5,87.2 L473.7,87.6 L474.0,88.0 L474.2,88.3 L474.5,88.4 L474.7,88.8 L475.0,89.3 L475.2,89.3 L475.5,89.6 L475.7,89.9 L476.0,89.8 L476.2,89.9 L477.0,90.7 L477.7,90.9 L478.5,91.0 L479.2,91.5 L480.0,91.8 L480.7,91.8 L481.5,91.9 L482.2,91.9 L482.9,92.1 L483.7,91.9 L484.4,92.1 L485.2,92.1 L485.9,91.9 L486.7,92.0 L487.4,92.0 L488.2,91.5 L488.4,91.4 L488.7,91.5 L488.9,91.5 L489.2,91.2 L489.4,90.9 L489.7,91.0 L489.9,90.9 L490.2,90.7 L490.4,90.5 L490.7,90.3 L490.9,89.9 L491.2,89.3 L491.4,89.2 L491.7,88.7 L491.9,88.0 L492.2,87.2 L492.4,86.5 L492.6,85.5 L492.9,84.4 L493.1,83.2 L493.4,81.8 L493.6,80.4 L493.9,78.5 L494.1,76.4 L494.4,74.3 L494.6,72.2 L494.9,70.3 L495.1,68.9 L495.4,67.4 L495.6,67.2 L495.9,67.5 L496.1,68.3 L496.4,69.8 L496.6,71.6 L496.9,73.3 L497.1,75.2 L497.4,76.6 L497.6,78.0 L497.9,79.1 L498.1,79.9 L498.4,80.4 L498.6,80.4 L498.9,79.8 L499.1,79.5 L499.4,78.8 L499.6,77.7 L499.9,77.3 L500.1,76.9 L500.4,77.5 L500.6,78.4 L500.9,79.5 L501.1,81.1 L501.4,82.9 L501.6,84.5 L501.9,85.8 L502.1,87.0 L502.4,88.0 L502.6,88.9 L502.9,89.5 L503.1,89.9 L503.3,90.3 L504.1,91.5 L504.8,92.0 L505.6,92.2 L506.3,92.5 L507.1,92.9 L507.8,92.8 L508.6,93.1 L509.3,93.0 L510.1,93.2 L510.8,93.1 L511.6,93.2 L512.3,93.3 L513.1,93.3 L513.8,93.5 L514.5,93.5 L515.3,93.4 L516.0,93.7 L516.8,93.6 L517.5,93.7 L518.3,93.5 L519.0,93.6 L519.8,93.8 L520.5,93.6 L521.3,93.5 L522.0,93.6 L522.8,93.8 L523.5,93.7 L524.3,93.7 L525.0,93.6 L525.7,93.6 L526.5,93.8 L527.2,93.7 L528.0,93.8 L528.7,93.9 L529.5,93.9 L530.2,93.7 L531.0,93.7 L531.7,93.7 L532.5,93.7 L533.2,93.7 L534.0,94.0 L534.7,93.9 L535.4,94.0 L536.2,93.7 L536.9,94.0 L537.7,93.9 L538.4,93.8 L539.2,93.9 L539.9,93.9 L540.7,94.0 L541.4,93.8 L542.2,94.0 L542.9,93.8 L543.7,93.8 L544.4,94.0 L545.2,93.8 L545.9,93.8 L546.6,93.9 L547.4,93.9 L548.1,93.7 L548.9,94.0 L549.6,94.0 L550.4,93.8 L551.1,93.9 L551.9,94.0 L552.6,94.0 L553.4,94.0 L554.1,94.1 L554.9,94.0 L555.6,93.9 L556.4,94.0 L557.1,94.1 L557.8,94.1 L558.6,94.0 L559.3,93.8 L560.1,93.9 L560.8,93.9 L561.6,93.8 L562.3,93.7 L563.1,93.9 L563.8,93.7 L564.6,93.7 L565.3,94.1 L566.1,93.7 L566.8,93.8 L567.5,94.0 L568.3,94.0 L569.0,94.1 L569.8,94.0 L570.5,93.9 L571.3,94.0 L572.0,93.7 L572.8,93.9 L573.5,94.0 L574.3,94.1 L575.0,93.8 L575.8,93.9 L576.5,93.8 L577.3,94.1 L578.0,94.0 L578.7,94.0 L579.5,94.0 L580.2,93.8 L581.0,93.9 L581.7,94.0 L582.5,93.9 L583.2,94.0 L584.0,94.0 L584.7,93.8 L585.5,93.8 L586.2,93.9 L587.0,93.9 L587.7,93.9 L588.4,93.8 L589.2,94.1 L589.9,93.8 L590.7,93.9 L591.4,93.8 L592.2,93.7 L592.9,93.8 L593.7,93.9 L594.4,93.7 L595.2,93.8 L595.9,93.9 L596.7,93.7 L597.4,93.9 L598.2,93.9 L598.9,94.0 L599.6,93.6 L600.4,93.7 L601.1,93.5 L601.9,93.2 L602.6,93.4 L603.4,93.0 L604.1,93.3 L604.9,93.3 L605.6,93.4 L606.4,93.5 L607.1,93.5 L607.9,93.5 L608.6,93.6 L609.4,93.8 L610.1,93.8 L610.8,93.8 L611.6,93.8 L612.3,93.9 L613.1,93.7 L613.8,93.6 L614.6,93.9 L615.3,93.6 L616.1,93.7 L616.8,93.6 L617.6,93.6 L618.3,93.5 L619.1,93.4 L619.8,93.6 L620.5,93.4 L621.3,93.3 L622.0,93.1 L622.8,93.2 L623.5,93.1 L624.3,93.0 L624.5,92.9 L624.8,92.5 L625.0,92.5 L625.3,92.3 L625.5,92.4 L625.8,92.3 L626.0,92.3 L626.3,91.9 L626.5,91.8 L626.8,91.4 L627.0,91.4 L627.3,91.1 L627.5,90.6 L627.8,90.0 L628.0,89.6 L628.3,89.1 L628.5,88.5 L628.8,87.7 L629.0,86.8 L629.3,85.9 L629.5,84.5 L629.8,83.4 L630.0,81.8 L630.3,80.5 L630.5,78.9 L630.8,77.3 L631.0,75.7 L631.2,74.2 L631.5,72.9 L631.7,71.5 L632.0,70.9 L632.2,70.2 L632.5,69.9 L632.7,70.3 L633.0,70.6 L633.2,71.8 L633.5,73.0 L633.7,74.5 L634.0,75.9 L634.2,77.3 L634.5,78.8 L634.7,80.7 L635.0,81.9 L635.2,83.3 L635.5,84.4 L635.7,85.8 L636.0,86.7 L636.2,87.4 L636.5,88.5 L636.7,89.1 L637.0,89.7 L637.2,90.4 L637.5,90.5 L637.7,91.0 L638.0,91.3 L638.2,91.4 L638.5,91.9 L638.7,91.9 L639.0,92.0 L639.2,92.4 L639.5,92.5 L639.7,92.3 L640.0,92.5 L640.2,92.8 L640.5,92.8 L640.7,92.9 L641.0,92.7 L641.2,92.9 L641.5,92.8 L642.2,93.2 L642.9,93.2 L643.7,93.4 L644.4,93.3 L645.2,93.3 L645.9,93.4 L646.7,93.5 L647.4,93.7 L648.2,93.7 L648.9,93.4 L649.7,93.5 L650.4,93.6 L651.2,93.5 L651.9,93.5 L652.6,93.4 L653.4,93.5 L654.1,93.3 L654.9,93.3 L655.6,93.3 L656.4,93.4 L657.1,92.9 L657.9,93.0 L658.6,92.6 L659.4,92.6 L660.1,92.1 L660.9,91.6 L661.6,91.4 L662.4,91.4 L663.1,90.8 L663.8,91.0 L664.6,91.1 L665.3,91.1 L666.1,91.5 L666.8,91.8 L667.6,92.3 L668.3,92.4 L669.1,92.9 L669.8,92.9 L670.6,93.0 L671.3,93.5 L672.1,93.4 L672.8,93.6 L673.6,93.7 L674.3,93.6 L675.0,93.7 L675.8,93.6 L676.5,93.9 L677.3,94.0 L678.0,93.7 L678.8,93.7 L679.5,94.0 L680.3,93.7 L681.0,93.7 L681.8,93.7 L682.5,93.8 L683.3,93.8 L684.0,93.7 L684.7,94.0 L685.5,94.1 L686.2,94.0 L687.0,94.0 L687.7,93.7 L688.5,93.9 L689.2,94.0 L690.0,94.1 L690.7,93.8 L691.5,94.0 L692.2,93.7 L693.0,94.0 L693.7,94.0 L694.5,93.8 L695.2,93.9 L695.9,94.0 L696.7,94.0 L697.4,94.0 L698.2,93.8 L698.9,93.6 L699.7,93.6 L700.4,93.8 L701.2,93.4 L701.9,93.0 L702.7,93.2 L703.4,93.3 L704.2,93.5 L704.9,93.7 L705.7,93.6 L706.4,93.9 L707.1,93.9 L707.9,94.0 L708.6,94.0 L709.4,93.8 L710.1,94.1 L710.9,94.1 L711.6,94.0 L712.4,94.1 L713.1,93.9 L713.9,93.9 L714.6,93.9 L715.4,94.1 L716.1,93.9 L716.8,94.0 L717.6,93.8" fill="none" stroke="#56c4cc" stroke-width="1" stroke-linejoin="round"/>
<text x="728.30" y="97.20" font-size="11.1" text-anchor="start" font-family="Liberation Sans, Arial, sans-serif" fill="#000" >G</text>
<rect x="423.1" y="24.6" width="298.90" height="220.10" fill="none" stroke="#000" stroke-width="1"/>
<line x1="423.10" y1="244.70" x2="423.10" y2="248.90" stroke="#000" stroke-width="1" />
<text x="423.10" y="259.20" font-size="9" text-anchor="middle" font-family="Liberation Sans, Arial, sans-serif" fill="#000" >1000</text>
<line x1="435.54" y1="244.70" x2="435.54" y2="247.10" stroke="#000" stroke-width="1" />
<line x1="447.98" y1="244.70" x2="447.98" y2="248.90" stroke="#000" stroke-width="1" />
<text x="447.98" y="259.20" font-size="9" text-anchor="middle" font-family="Liberation Sans, Arial, sans-serif" fill="#000" >1200</text>
<line x1="460.43" y1="244.70" x2="460.43" y2="247.10" stroke="#000" stroke-width="1" />
<line x1="472.87" y1="244.70" x2="472.87" y2="248.90" stroke="#000" stroke-width="1" />
<text x="472.87" y="259.20" font-size="9" text-anchor="middle" font-family="Liberation Sans, Arial, sans-serif" fill="#000" >1400</text>
<line x1="485.31" y1="244.70" x2="485.31" y2="247.10" stroke="#000" stroke-width="1" />
<line x1="497.75" y1="244.70" x2="497.75" y2="248.90" stroke="#000" stroke-width="1" />
<text x="497.75" y="259.20" font-size="9" text-anchor="middle" font-family="Liberation Sans, Arial, sans-serif" fill="#000" >1600</text>
<line x1="510.19" y1="244.70" x2="510.19" y2="247.10" stroke="#000" stroke-width="1" />
<line x1="522.63" y1="244.70" x2="522.63" y2="248.90" stroke="#000" stroke-width="1" />
<text x="522.63" y="259.20" font-size="9" text-anchor="middle" font-family="Liberation Sans, Arial, sans-serif" fill="#000" >1800</text>
<line x1="535.08" y1="244.70" x2="535.08" y2="247.10" stroke="#000" stroke-width="1" />
<line x1="547.52" y1="244.70" x2="547.52" y2="248.90" stroke="#000" stroke-width="1" />
<text x="547.52" y="259.20" font-size="9" text-anchor="middle" font-family="Liberation Sans, Arial, sans-serif" fill="#000" >2000</text>
<line x1="559.96" y1="244.70" x2="559.96" y2="247.10" stroke="#000" stroke-width="1" />
<line x1="572.40" y1="244.70" x2="572.40" y2="248.90" stroke="#000" stroke-width="1" />
<text x="572.40" y="259.20" font-size="9" text-anchor="middle" font-family="Liberation Sans, Arial, sans-serif" fill="#000" >2200</text>
<line x1="584.84" y1="244.70" x2="584.84" y2="247.10" stroke="#000" stroke-width="1" />
<line x1="597.28" y1="244.70" x2="597.28" y2="248.90" stroke="#000" stroke-width="1" />
<text x="597.28" y="259.20" font-size="9" text-anchor="middle" font-family="Liberation Sans, Arial, sans-serif" fill="#000" >2400</text>
<line x1="609.73" y1="244.70" x2="609.73" y2="247.10" stroke="#000" stroke-width="1" />
<line x1="622.17" y1="244.70" x2="622.17" y2="248.90" stroke="#000" stroke-width="1" />
<text x="622.17" y="259.20" font-size="9" text-anchor="middle" font-family="Liberation Sans, Arial, sans-serif" fill="#000" >2600</text>
<line x1="634.61" y1="244.70" x2="634.61" y2="247.10" stroke="#000" stroke-width="1" />
<line x1="647.05" y1="244.70" x2="647.05" y2="248.90" stroke="#000" stroke-width="1" />
<text x="647.05" y="259.20" font-size="9" text-anchor="middle" font-family="Liberation Sans, Arial, sans-serif" fill="#000" >2800</text>
<line x1="659.49" y1="244.70" x2="659.49" y2="247.10" stroke="#000" stroke-width="1" />
<line x1="671.93" y1="244.70" x2="671.93" y2="248.90" stroke="#000" stroke-width="1" />
<text x="671.93" y="259.20" font-size="9" text-anchor="middle" font-family="Liberation Sans, Arial, sans-serif" fill="#000" >3000</text>
<line x1="684.38" y1="244.70" x2="684.38" y2="247.10" stroke="#000" stroke-width="1" />
<line x1="696.82" y1="244.70" x2="696.82" y2="248.90" stroke="#000" stroke-width="1" />
<text x="696.82" y="259.20" font-size="9" text-anchor="middle" font-family="Liberation Sans, Arial, sans-serif" fill="#000" >3200</text>
<line x1="709.26" y1="244.70" x2="709.26" y2="247.10" stroke="#000" stroke-width="1" />
<line x1="721.70" y1="244.70" x2="721.70" y2="248.90" stroke="#000" stroke-width="1" />
<text x="721.70" y="259.20" font-size="9" text-anchor="middle" font-family="Liberation Sans, Arial, sans-serif" fill="#000" >3400</text>
<text x="443.30" y="131.80" font-size="11" text-anchor="start" font-family="Liberation Sans, Arial, sans-serif" fill="#000" >D</text>
<text x="478.40" y="127.20" font-size="11" text-anchor="start" font-family="Liberation Sans, Arial, sans-serif" fill="#000" >G</text>
<text x="498.80" y="134.00" font-size="11" text-anchor="start" font-family="Liberation Sans, Arial, sans-serif" fill="#000" >D'</text>
<text x="614.70" y="133.20" font-size="11" text-anchor="start" font-family="Liberation Sans, Arial, sans-serif" fill="#000" >2D</text>
<text x="658.80" y="133.20" font-size="11" text-anchor="start" font-family="Liberation Sans, Arial, sans-serif" fill="#000" >D+D'</text>
<text x="703.30" y="133.20" font-size="11" text-anchor="start" font-family="Liberation Sans, Arial, sans-serif" fill="#000" >2D'</text>
<text transform="translate(409.2,134) rotate(-90)" font-size="11.7" text-anchor="middle" font-family="Liberation Sans, Arial, sans-serif">Intensity / a.u.</text>
<text x="572.2" y="277.8" font-size="11.4" text-anchor="middle" font-family="Liberation Sans, Arial, sans-serif">Raman shift / cm<tspan dy="-4" font-size="6.5">-1</tspan></text>
<text x="753.00" y="23.00" font-size="18.5" text-anchor="start" font-family="Liberation Serif, Times New Roman, serif" fill="#000" >(c)</text>
<g clip-path="url(#clipC)"><g filter="url(#jet)">
<rect x="767.5" y="4" width="331" height="262" fill="#2b2b2b"/>
<ellipse cx="792" cy="30" rx="10" ry="8" fill="#141414" filter="url(#b6)"/>
<ellipse cx="835" cy="30" rx="30" ry="7" fill="#1a1a1a" filter="url(#b6)"/>
<ellipse cx="872" cy="50" rx="14" ry="8" fill="#141414" filter="url(#b6)"/>
<ellipse cx="905" cy="42" rx="14" ry="10" fill="#121212" filter="url(#b6)"/>
<ellipse cx="949" cy="43" rx="16" ry="10" fill="#050505" filter="url(#b6)"/>
<ellipse cx="1000" cy="40" rx="22" ry="9" fill="#171717" filter="url(#b6)"/>
<ellipse cx="1045" cy="45" rx="14" ry="8" fill="#1a1a1a" filter="url(#b6)"/>
<ellipse cx="863" cy="38" rx="6" ry="5" fill="#4a4a4a" filter="url(#b3)"/>
<ellipse cx="898" cy="40" rx="5" ry="4" fill="#3b3b3b" filter="url(#b3)"/>
<ellipse cx="872" cy="47" rx="8" ry="6" fill="#0f0f0f" filter="url(#b6)"/>
<ellipse cx="1072" cy="40" rx="8" ry="18" fill="#454545" filter="url(#b6)"/>
<ellipse cx="1030" cy="30" rx="10" ry="5" fill="#3d3d3d" filter="url(#b6)"/>
<ellipse cx="797" cy="95" rx="7" ry="22" fill="#1a1a1a" filter="url(#b6)"/>
<ellipse cx="893" cy="92" rx="7" ry="24" fill="#0f0f0f" filter="url(#b6)"/>
<ellipse cx="986" cy="95" rx="6" ry="22" fill="#1a1a1a" filter="url(#b6)"/>
<ellipse cx="1073" cy="95" rx="6" ry="30" fill="#404040" filter="url(#b6)"/>
<ellipse cx="795" cy="137" rx="10" ry="7" fill="#4c4c4c" filter="url(#b6)"/>
<ellipse cx="893" cy="137" rx="9" ry="6" fill="#454545" filter="url(#b6)"/>
<ellipse cx="986" cy="137" rx="8" ry="6" fill="#454545" filter="url(#b6)"/>
<ellipse cx="1072" cy="137" rx="8" ry="8" fill="#454545" filter="url(#b6)"/>
<ellipse cx="797" cy="180" rx="7" ry="26" fill="#141414" filter="url(#b6)"/>
<ellipse cx="893" cy="180" rx="8" ry="34" fill="#0a0a0a" filter="url(#b6)"/>
<ellipse cx="987" cy="180" rx="6" ry="24" fill="#1f1f1f" filter="url(#b6)"/>
<ellipse cx="1072" cy="180" rx="7" ry="30" fill="#424242" filter="url(#b6)"/>
<ellipse cx="815" cy="228" rx="22" ry="10" fill="#121212" filter="url(#b6)"/>
<ellipse cx="849" cy="230" rx="7" ry="16" fill="#4c4c4c" filter="url(#b6)"/>
<ellipse cx="890" cy="232" rx="14" ry="12" fill="#0d0d0d" filter="url(#b6)"/>
<ellipse cx="925" cy="238" rx="18" ry="9" fill="#050505" filter="url(#b6)"/>
<ellipse cx="958" cy="225" rx="14" ry="8" fill="#141414" filter="url(#b6)"/>
<ellipse cx="986" cy="222" rx="8" ry="14" fill="#3d3d3d" filter="url(#b6)"/>
<ellipse cx="1030" cy="232" rx="30" ry="9" fill="#333333" filter="url(#b6)"/>
<ellipse cx="1068" cy="228" rx="10" ry="12" fill="#3d3d3d" filter="url(#b6)"/>
<ellipse cx="948" cy="138" rx="12" ry="8" fill="#474747" filter="url(#b6)"/>
<ellipse cx="1045" cy="138" rx="16" ry="7" fill="#474747" filter="url(#b6)"/>
<ellipse cx="850" cy="140" rx="30" ry="5" fill="#3d3d3d" filter="url(#b6)"/>
<rect x="810" y="59.3" width="72.6" height="65.5" rx="6" fill="#4a4a4a" filter="url(#b6)"/>
<rect x="905.3" y="59.3" width="75.3" height="67.9" rx="6" fill="#4a4a4a" filter="url(#b6)"/>
<rect x="990.5" y="55.5" width="81.0" height="75.0" rx="6" fill="#4a4a4a" filter="url(#b6)"/>
<rect x="809" y="142.3" width="70.0" height="68.7" rx="6" fill="#4a4a4a" filter="url(#b6)"/>
<rect x="904" y="141.8" width="75.0" height="69.6" rx="6" fill="#4a4a4a" filter="url(#b6)"/>
<rect x="993" y="142" width="74.0" height="69.2" rx="6" fill="#4a4a4a" filter="url(#b6)"/>
<rect x="817" y="66.3" width="58.6" height="51.5" rx="2" fill="#ededed" filter="url(#b4)"/>
<rect x="824" y="73.3" width="44.6" height="37.5" rx="4" fill="#f4f4f4" filter="url(#b6)"/>
<rect x="912.3" y="66.3" width="61.3" height="53.9" rx="2" fill="#ececec" filter="url(#b4)"/>
<rect x="930" y="70" width="40.0" height="22.0" rx="4" fill="#f4f4f4" filter="url(#b6)"/>
<rect x="935" y="97" width="33.0" height="17.0" rx="4" fill="#f2f2f2" filter="url(#b6)"/>
<rect x="816" y="149.3" width="56.0" height="54.7" rx="2" fill="#bbbbbb" filter="url(#b4)"/>
<rect x="911" y="148.8" width="61.0" height="55.6" rx="2" fill="#c8c8c8" filter="url(#b4)"/>
<rect x="1000" y="149" width="60.0" height="55.2" rx="2" fill="#dbdbdb" filter="url(#b4)"/>
<ellipse cx="925.6" cy="93" rx="9" ry="5" fill="#dedede" filter="url(#b4)"/>
<ellipse cx="925" cy="110" rx="8" ry="5" fill="#e6e6e6" filter="url(#b4)"/>
<ellipse cx="957" cy="178" rx="11" ry="22" fill="#d2d2d2" filter="url(#b6)"/>
<ellipse cx="1021.6" cy="162" rx="5" ry="4" fill="#bababa" filter="url(#b3)"/>
<ellipse cx="1019.6" cy="189.3" rx="6" ry="5" fill="#e8e8e8" filter="url(#b4)"/>
<ellipse cx="1040" cy="180" rx="12" ry="14" fill="#dfdfdf" filter="url(#b6)"/>
<ellipse cx="842" cy="172" rx="10" ry="10" fill="#b6b6b6" filter="url(#b6)"/>
<rect x="873" y="92.7" width="10" height="1.1" fill="#333333" opacity="0.5" filter="url(#b2)"/>
<rect x="905" y="92.7" width="11" height="1.1" fill="#333333" opacity="0.55" filter="url(#b2)"/>
<rect x="970" y="92.7" width="34" height="1.1" fill="#525252" opacity="0.7" filter="url(#b2)"/>
<rect x="1001" y="66" width="60" height="54" rx="3" fill="#292929" filter="url(#b3)"/>
<polygon points="1008,73.6 1050,73.6 1050,95 1043.6,108 1025,108 1013.6,89.6" fill="#0d0d0d" filter="url(#b4)"/>
<ellipse cx="1043.6" cy="81.6" rx="8" ry="8" fill="#000000" filter="url(#b4)"/>
<ellipse cx="1017" cy="101" rx="6" ry="8" fill="#575757" filter="url(#b4)"/>
<path d="M1003,67.8 H1059 V119.2" stroke="#8a8a8a" stroke-width="6.5" fill="none" stroke-linejoin="round" filter="url(#b35)"/>
<path d="M1003,67.8 V119.2 H1059" stroke="#919191" stroke-width="6.5" fill="none" stroke-linejoin="round" filter="url(#b35)"/>
<path d="M1003,84 V119.2 H1046" stroke="#9d9d9d" stroke-width="6.5" fill="none" stroke-linejoin="round" filter="url(#b35)"/>
<path d="M1059,98 V119.2" stroke="#999999" stroke-width="6.5" fill="none" filter="url(#b35)"/>
<ellipse cx="1054.5" cy="106.3" rx="4" ry="4.5" fill="#cccccc" filter="url(#b3)"/>
</g></g>
<text x="818.80" y="47.60" font-size="20" text-anchor="start" font-family="Liberation Serif, Times New Roman, serif" fill="#fff" >A</text>
<text x="843.70" y="99.70" font-size="20" text-anchor="start" font-family="Liberation Serif, Times New Roman, serif" fill="#fff" >E</text>
<text x="940.70" y="99.70" font-size="20" text-anchor="start" font-family="Liberation Serif, Times New Roman, serif" fill="#fff" >F</text>
<text x="1028.00" y="99.70" font-size="20" text-anchor="start" font-family="Liberation Serif, Times New Roman, serif" fill="#fff" >G</text>
<text x="844.30" y="183.80" font-size="20" text-anchor="start" font-family="Liberation Serif, Times New Roman, serif" fill="#fff" >B</text>
<text x="939.40" y="183.90" font-size="20" text-anchor="start" font-family="Liberation Serif, Times New Roman, serif" fill="#fff" >C</text>
<text x="1028.00" y="183.90" font-size="20" text-anchor="start" font-family="Liberation Serif, Times New Roman, serif" fill="#fff" >D</text>
<text x="784.20" y="28.00" font-size="9.9" text-anchor="end" font-family="Liberation Sans, Arial, sans-serif" fill="#262626" >0</text>
<text x="784.20" y="55.75" font-size="9.9" text-anchor="end" font-family="Liberation Sans, Arial, sans-serif" fill="#262626" >50</text>
<text x="784.20" y="83.50" font-size="9.9" text-anchor="end" font-family="Liberation Sans, Arial, sans-serif" fill="#262626" >100</text>
<text x="784.20" y="111.25" font-size="9.9" text-anchor="end" font-family="Liberation Sans, Arial, sans-serif" fill="#262626" >150</text>
<text x="784.20" y="139.00" font-size="9.9" text-anchor="end" font-family="Liberation Sans, Arial, sans-serif" fill="#262626" >200</text>
<text x="784.20" y="166.75" font-size="9.9" text-anchor="end" font-family="Liberation Sans, Arial, sans-serif" fill="#262626" >250</text>
<text x="784.20" y="194.50" font-size="9.9" text-anchor="end" font-family="Liberation Sans, Arial, sans-serif" fill="#262626" >300</text>
<text x="784.20" y="222.25" font-size="9.9" text-anchor="end" font-family="Liberation Sans, Arial, sans-serif" fill="#262626" >350</text>
<text x="784.20" y="250.00" font-size="9.9" text-anchor="end" font-family="Liberation Sans, Arial, sans-serif" fill="#262626" >400</text>
<text x="787.20" y="260.10" font-size="9.8" text-anchor="middle" font-family="Liberation Sans, Arial, sans-serif" fill="#262626" >0</text>
<line x1="787.50" y1="246.00" x2="787.50" y2="243.50" stroke="#444" stroke-width="0.6" />
<text x="842.63" y="260.10" font-size="9.8" text-anchor="middle" font-family="Liberation Sans, Arial, sans-serif" fill="#262626" >100</text>
<line x1="842.93" y1="246.00" x2="842.93" y2="243.50" stroke="#444" stroke-width="0.6" />
<text x="898.06" y="260.10" font-size="9.8" text-anchor="middle" font-family="Liberation Sans, Arial, sans-serif" fill="#262626" >200</text>
<line x1="898.36" y1="246.00" x2="898.36" y2="243.50" stroke="#444" stroke-width="0.6" />
<text x="953.49" y="260.10" font-size="9.8" text-anchor="middle" font-family="Liberation Sans, Arial, sans-serif" fill="#262626" >300</text>
<line x1="953.79" y1="246.00" x2="953.79" y2="243.50" stroke="#444" stroke-width="0.6" />
<text x="1008.92" y="260.10" font-size="9.8" text-anchor="middle" font-family="Liberation Sans, Arial, sans-serif" fill="#262626" >400</text>
<line x1="1009.22" y1="246.00" x2="1009.22" y2="243.50" stroke="#444" stroke-width="0.6" />
<text x="1064.35" y="260.10" font-size="9.8" text-anchor="middle" font-family="Liberation Sans, Arial, sans-serif" fill="#262626" >500</text>
<line x1="1064.65" y1="246.00" x2="1064.65" y2="243.50" stroke="#444" stroke-width="0.6" />
<line x1="787.50" y1="246.30" x2="1078.50" y2="246.30" stroke="#bbb" stroke-width="0.8" />
<text transform="translate(763.3,135.6) rotate(-90)" font-size="10.8" text-anchor="middle" fill="#262626" font-family="Liberation Sans, Arial, sans-serif">y / <tspan font-style="italic" font-family="Liberation Serif, Times New Roman, serif">μ</tspan>m</text>
<text x="932.8" y="273.4" font-size="10.8" text-anchor="middle" fill="#262626" font-family="Liberation Sans, Arial, sans-serif">x / <tspan font-style="italic" font-family="Liberation Serif, Times New Roman, serif">μ</tspan>m</text>
<rect x="1098" y="24" width="13.6" height="222" fill="url(#cbC)"/>
<rect x="1098" y="24" width="13.6" height="222" fill="none" stroke="#555" stroke-width="0.5"/>
<text x="1058.90" y="18.60" font-size="10.0" text-anchor="start" font-family="Liberation Sans, Arial, sans-serif" fill="#1a1a1a" >Normalized Current</text>
<text x="1115.60" y="236.03" font-size="10.2" text-anchor="start" font-family="Liberation Sans, Arial, sans-serif" fill="#262626" >1.1</text>
<line x1="1109.60" y1="232.33" x2="1111.60" y2="232.33" stroke="#333" stroke-width="0.4" />
<text x="1115.60" y="203.63" font-size="10.2" text-anchor="start" font-family="Liberation Sans, Arial, sans-serif" fill="#262626" >1.2</text>
<line x1="1109.60" y1="199.93" x2="1111.60" y2="199.93" stroke="#333" stroke-width="0.4" />
<text x="1115.60" y="171.23" font-size="10.2" text-anchor="start" font-family="Liberation Sans, Arial, sans-serif" fill="#262626" >1.3</text>
<line x1="1109.60" y1="167.53" x2="1111.60" y2="167.53" stroke="#333" stroke-width="0.4" />
<text x="1115.60" y="138.83" font-size="10.2" text-anchor="start" font-family="Liberation Sans, Arial, sans-serif" fill="#262626" >1.4</text>
<line x1="1109.60" y1="135.13" x2="1111.60" y2="135.13" stroke="#333" stroke-width="0.4" />
<text x="1115.60" y="106.43" font-size="10.2" text-anchor="start" font-family="Liberation Sans, Arial, sans-serif" fill="#262626" >1.5</text>
<line x1="1109.60" y1="102.73" x2="1111.60" y2="102.73" stroke="#333" stroke-width="0.4" />
<text x="1115.60" y="74.03" font-size="10.2" text-anchor="start" font-family="Liberation Sans, Arial, sans-serif" fill="#262626" >1.6</text>
<line x1="1109.60" y1="70.33" x2="1111.60" y2="70.33" stroke="#333" stroke-width="0.4" />
<text x="1115.60" y="41.63" font-size="10.2" text-anchor="start" font-family="Liberation Sans, Arial, sans-serif" fill="#262626" >1.7</text>
<line x1="1109.60" y1="37.93" x2="1111.60" y2="37.93" stroke="#333" stroke-width="0.4" />
<text x="16.20" y="281.00" font-size="18.5" text-anchor="start" font-family="Liberation Serif, Times New Roman, serif" fill="#000" >(d)</text>
<path d="M98.3,485.1 L118.1,482.6 L130.0,480.0 L138.0,477.2 L144.6,474.0 L147.2,472.6 L164.4,460.2 L176.3,448.3 L184.3,438.2 L204.4,409.7 L213.8,395.8 L230.6,370.7 L242.5,356.2 L250.6,347.3 L262.3,336.9 L270.5,331.5 L276.8,327.6 L290.4,321.6 L296.9,319.5 L308.4,316.9 L316.6,315.0 L342.9,312.5" fill="none" stroke="#222" stroke-width="0.8"/>
<rect x="95.47" y="482.59" width="5.6" height="5.1" fill="#000"/>
<rect x="115.31" y="480.08" width="5.6" height="5.1" fill="#000"/>
<rect x="127.22" y="477.44" width="5.6" height="5.1" fill="#000"/>
<rect x="135.15" y="474.65" width="5.6" height="5.1" fill="#000"/>
<rect x="141.77" y="471.45" width="5.6" height="5.1" fill="#000"/>
<rect x="144.41" y="470.06" width="5.6" height="5.1" fill="#000"/>
<rect x="161.61" y="457.67" width="5.6" height="5.1" fill="#000"/>
<rect x="173.52" y="445.70" width="5.6" height="5.1" fill="#000"/>
<rect x="181.45" y="435.68" width="5.6" height="5.1" fill="#000"/>
<rect x="201.62" y="407.15" width="5.6" height="5.1" fill="#000"/>
<rect x="211.02" y="393.23" width="5.6" height="5.1" fill="#000"/>
<rect x="227.75" y="368.17" width="5.6" height="5.1" fill="#000"/>
<rect x="239.66" y="353.70" width="5.6" height="5.1" fill="#000"/>
<rect x="247.79" y="344.79" width="5.6" height="5.1" fill="#000"/>
<rect x="259.50" y="334.35" width="5.6" height="5.1" fill="#000"/>
<rect x="267.70" y="328.92" width="5.6" height="5.1" fill="#000"/>
<rect x="274.05" y="325.03" width="5.6" height="5.1" fill="#000"/>
<rect x="287.61" y="319.04" width="5.6" height="5.1" fill="#000"/>
<rect x="294.09" y="316.95" width="5.6" height="5.1" fill="#000"/>
<rect x="305.60" y="314.31" width="5.6" height="5.1" fill="#000"/>
<rect x="313.80" y="312.50" width="5.6" height="5.1" fill="#000"/>
<rect x="340.12" y="309.99" width="5.6" height="5.1" fill="#000"/>
<rect x="65.2" y="289.3" width="298.40" height="222.70" fill="none" stroke="#000" stroke-width="1"/>
<line x1="65.20" y1="512.00" x2="65.20" y2="517.00" stroke="#000" stroke-width="1" />
<text x="65.20" y="527.00" font-size="10" text-anchor="middle" font-family="Liberation Sans, Arial, sans-serif" fill="#000" >-4.5</text>
<line x1="81.73" y1="512.00" x2="81.73" y2="514.80" stroke="#000" stroke-width="1" />
<line x1="98.27" y1="512.00" x2="98.27" y2="517.00" stroke="#000" stroke-width="1" />
<text x="98.27" y="527.00" font-size="10" text-anchor="middle" font-family="Liberation Sans, Arial, sans-serif" fill="#000" >-4.0</text>
<line x1="114.81" y1="512.00" x2="114.81" y2="514.80" stroke="#000" stroke-width="1" />
<line x1="131.34" y1="512.00" x2="131.34" y2="517.00" stroke="#000" stroke-width="1" />
<text x="131.34" y="527.00" font-size="10" text-anchor="middle" font-family="Liberation Sans, Arial, sans-serif" fill="#000" >-3.5</text>
<line x1="147.88" y1="512.00" x2="147.88" y2="514.80" stroke="#000" stroke-width="1" />
<line x1="164.41" y1="512.00" x2="164.41" y2="517.00" stroke="#000" stroke-width="1" />
<text x="164.41" y="527.00" font-size="10" text-anchor="middle" font-family="Liberation Sans, Arial, sans-serif" fill="#000" >-3.0</text>
<line x1="180.94" y1="512.00" x2="180.94" y2="514.80" stroke="#000" stroke-width="1" />
<line x1="197.48" y1="512.00" x2="197.48" y2="517.00" stroke="#000" stroke-width="1" />
<text x="197.48" y="527.00" font-size="10" text-anchor="middle" font-family="Liberation Sans, Arial, sans-serif" fill="#000" >-2.5</text>
<line x1="214.01" y1="512.00" x2="214.01" y2="514.80" stroke="#000" stroke-width="1" />
<line x1="230.55" y1="512.00" x2="230.55" y2="517.00" stroke="#000" stroke-width="1" />
<text x="230.55" y="527.00" font-size="10" text-anchor="middle" font-family="Liberation Sans, Arial, sans-serif" fill="#000" >-2.0</text>
<line x1="247.08" y1="512.00" x2="247.08" y2="514.80" stroke="#000" stroke-width="1" />
<line x1="263.62" y1="512.00" x2="263.62" y2="517.00" stroke="#000" stroke-width="1" />
<text x="263.62" y="527.00" font-size="10" text-anchor="middle" font-family="Liberation Sans, Arial, sans-serif" fill="#000" >-1.5</text>
<line x1="280.16" y1="512.00" x2="280.16" y2="514.80" stroke="#000" stroke-width="1" />
<line x1="296.69" y1="512.00" x2="296.69" y2="517.00" stroke="#000" stroke-width="1" />
<text x="296.69" y="527.00" font-size="10" text-anchor="middle" font-family="Liberation Sans, Arial, sans-serif" fill="#000" >-1.0</text>
<line x1="313.23" y1="512.00" x2="313.23" y2="514.80" stroke="#000" stroke-width="1" />
<line x1="329.76" y1="512.00" x2="329.76" y2="517.00" stroke="#000" stroke-width="1" />
<text x="329.76" y="527.00" font-size="10" text-anchor="middle" font-family="Liberation Sans, Arial, sans-serif" fill="#000" >-0.5</text>
<line x1="346.30" y1="512.00" x2="346.30" y2="514.80" stroke="#000" stroke-width="1" />
<line x1="362.83" y1="512.00" x2="362.83" y2="517.00" stroke="#000" stroke-width="1" />
<text x="362.83" y="527.00" font-size="10" text-anchor="middle" font-family="Liberation Sans, Arial, sans-serif" fill="#000" >0.0</text>
<line x1="65.20" y1="498.38" x2="60.60" y2="498.38" stroke="#000" stroke-width="1" />
<text x="57.70" y="501.88" font-size="9.8" text-anchor="end" font-family="Liberation Sans, Arial, sans-serif" fill="#000" >0.4</text>
<line x1="65.20" y1="484.16" x2="62.40" y2="484.16" stroke="#000" stroke-width="1" />
<line x1="65.20" y1="470.54" x2="60.60" y2="470.54" stroke="#000" stroke-width="1" />
<text x="57.70" y="474.04" font-size="9.8" text-anchor="end" font-family="Liberation Sans, Arial, sans-serif" fill="#000" >0.6</text>
<line x1="65.20" y1="456.32" x2="62.40" y2="456.32" stroke="#000" stroke-width="1" />
<line x1="65.20" y1="442.71" x2="60.60" y2="442.71" stroke="#000" stroke-width="1" />
<text x="57.70" y="446.21" font-size="9.8" text-anchor="end" font-family="Liberation Sans, Arial, sans-serif" fill="#000" >0.8</text>
<line x1="65.20" y1="428.49" x2="62.40" y2="428.49" stroke="#000" stroke-width="1" />
<line x1="65.20" y1="414.87" x2="60.60" y2="414.87" stroke="#000" stroke-width="1" />
<text x="57.70" y="418.37" font-size="9.8" text-anchor="end" font-family="Liberation Sans, Arial, sans-serif" fill="#000" >1.0</text>
<line x1="65.20" y1="400.65" x2="62.40" y2="400.65" stroke="#000" stroke-width="1" />
<line x1="65.20" y1="387.03" x2="60.60" y2="387.03" stroke="#000" stroke-width="1" />
<text x="57.70" y="390.53" font-size="9.8" text-anchor="end" font-family="Liberation Sans, Arial, sans-serif" fill="#000" >1.2</text>
<line x1="65.20" y1="372.81" x2="62.40" y2="372.81" stroke="#000" stroke-width="1" />
<line x1="65.20" y1="359.19" x2="60.60" y2="359.19" stroke="#000" stroke-width="1" />
<text x="57.70" y="362.69" font-size="9.8" text-anchor="end" font-family="Liberation Sans, Arial, sans-serif" fill="#000" >1.4</text>
<line x1="65.20" y1="344.98" x2="62.40" y2="344.98" stroke="#000" stroke-width="1" />
<line x1="65.20" y1="331.36" x2="60.60" y2="331.36" stroke="#000" stroke-width="1" />
<text x="57.70" y="334.86" font-size="9.8" text-anchor="end" font-family="Liberation Sans, Arial, sans-serif" fill="#000" >1.6</text>
<line x1="65.20" y1="317.14" x2="62.40" y2="317.14" stroke="#000" stroke-width="1" />
<line x1="65.20" y1="303.52" x2="60.60" y2="303.52" stroke="#000" stroke-width="1" />
<text x="57.70" y="307.02" font-size="9.8" text-anchor="end" font-family="Liberation Sans, Arial, sans-serif" fill="#000" >1.8</text>
<text transform="translate(34.5,400) rotate(-90) scale(0.905,1)" font-size="13" text-anchor="middle" font-family="Liberation Sans, Arial, sans-serif">Normalized Current</text>
<text transform="translate(214.4,545.5) scale(1.075,1)" font-size="12" text-anchor="middle" font-family="Liberation Sans, Arial, sans-serif">log(k<tspan dy="-5" font-size="8">0</tspan><tspan dy="5"> / cm/s)</tspan></text>
<text x="382.00" y="281.00" font-size="18.5" text-anchor="start" font-family="Liberation Serif, Times New Roman, serif" fill="#000" >(e)</text>
<rect x="425.5" y="289.4" width="118.70" height="222.70" fill="#cbecf9"/>
<rect x="544.2" y="289.4" width="114.00" height="222.70" fill="#ffcccc"/>
<rect x="658.2" y="289.4" width="65.30" height="222.70" fill="#cccccc"/>
<path d="M475.2,478.2 C477.4,477.7 483.2,476.2 488.5,475.1 C493.8,474.1 500.5,473.3 506.8,471.9 C513.1,470.5 520.1,469.1 526.4,466.6 C532.6,464.2 538.1,461.5 544.3,457.2 C550.5,452.9 557.5,446.6 563.7,440.9 C569.9,435.2 575.0,429.2 581.4,422.9 C587.8,416.6 594.6,410.0 602.2,403.2 C609.8,396.4 620.0,387.4 627.0,382.0 C634.0,376.6 640.2,373.2 644.5,370.8 C648.8,368.4 650.6,368.4 653.0,367.8 C655.4,367.2 657.0,367.1 658.9,367.1 C660.8,367.1 662.8,367.4 664.5,368.0 C666.2,368.6 667.8,369.3 669.4,370.8 C671.0,372.3 672.4,373.1 674.3,377.0 C676.1,380.9 678.8,386.6 680.5,394.5 C682.2,402.4 683.5,414.2 684.3,424.3 C685.1,434.4 685.2,444.1 685.5,455.0 C685.8,465.9 685.8,483.8 685.8,489.6" fill="none" stroke="#2a2a2a" stroke-width="0.75"/>
<line x1="488.50" y1="475.10" x2="606.00" y2="452.40" stroke="#d84a4a" stroke-width="0.9" stroke-dasharray="1.6 1.9"/>
<line x1="461.50" y1="478.20" x2="484.60" y2="478.20" stroke="#cf4a4a" stroke-width="0.9" />
<line x1="461.50" y1="476.00" x2="461.50" y2="480.40" stroke="#cf4a4a" stroke-width="0.9" />
<line x1="484.60" y1="476.00" x2="484.60" y2="480.40" stroke="#cf4a4a" stroke-width="0.9" />
<line x1="475.00" y1="474.20" x2="475.00" y2="482.10" stroke="#3f8f4a" stroke-width="0.8" />
<line x1="472.80" y1="474.20" x2="477.20" y2="474.20" stroke="#3f8f4a" stroke-width="0.8" />
<line x1="472.80" y1="482.10" x2="477.20" y2="482.10" stroke="#3f8f4a" stroke-width="0.8" />
<line x1="480.20" y1="475.10" x2="496.50" y2="475.10" stroke="#cf4a4a" stroke-width="0.9" />
<line x1="480.20" y1="472.90" x2="480.20" y2="477.30" stroke="#cf4a4a" stroke-width="0.9" />
<line x1="496.50" y1="472.90" x2="496.50" y2="477.30" stroke="#cf4a4a" stroke-width="0.9" />
<line x1="488.50" y1="471.20" x2="488.50" y2="479.20" stroke="#3f8f4a" stroke-width="0.8" />
<line x1="486.30" y1="471.20" x2="490.70" y2="471.20" stroke="#3f8f4a" stroke-width="0.8" />
<line x1="486.30" y1="479.20" x2="490.70" y2="479.20" stroke="#3f8f4a" stroke-width="0.8" />
<line x1="533.50" y1="465.20" x2="552.70" y2="465.20" stroke="#cf4a4a" stroke-width="0.9" />
<line x1="533.50" y1="463.00" x2="533.50" y2="467.40" stroke="#cf4a4a" stroke-width="0.9" />
<line x1="552.70" y1="463.00" x2="552.70" y2="467.40" stroke="#cf4a4a" stroke-width="0.9" />
<line x1="544.30" y1="456.80" x2="544.30" y2="473.40" stroke="#7f9245" stroke-width="0.8" />
<line x1="542.10" y1="456.80" x2="546.50" y2="456.80" stroke="#7f9245" stroke-width="0.8" />
<line x1="542.10" y1="473.40" x2="546.50" y2="473.40" stroke="#7f9245" stroke-width="0.8" />
<line x1="573.80" y1="422.90" x2="588.50" y2="422.90" stroke="#cf4a4a" stroke-width="0.9" />
<line x1="573.80" y1="420.70" x2="573.80" y2="425.10" stroke="#cf4a4a" stroke-width="0.9" />
<line x1="588.50" y1="420.70" x2="588.50" y2="425.10" stroke="#cf4a4a" stroke-width="0.9" />
<line x1="581.40" y1="402.30" x2="581.40" y2="443.20" stroke="#7f9245" stroke-width="0.8" />
<line x1="579.20" y1="402.30" x2="583.60" y2="402.30" stroke="#7f9245" stroke-width="0.8" />
<line x1="579.20" y1="443.20" x2="583.60" y2="443.20" stroke="#7f9245" stroke-width="0.8" />
<line x1="682.80" y1="305.40" x2="682.80" y2="346.50" stroke="#3f8f4a" stroke-width="0.8" />
<line x1="680.60" y1="305.40" x2="685.00" y2="305.40" stroke="#3f8f4a" stroke-width="0.8" />
<line x1="680.60" y1="346.50" x2="685.00" y2="346.50" stroke="#3f8f4a" stroke-width="0.8" />
<rect x="472.50" y="476.00" width="5" height="4.4" fill="#0b0b10"/>
<rect x="486.00" y="473.00" width="5" height="4.4" fill="#0b0b10"/>
<rect x="541.70" y="462.80" width="5" height="4.4" fill="#0b0b10"/>
<rect x="579.00" y="420.80" width="5" height="4.4" fill="#0b0b10"/>
<rect x="680.30" y="323.80" width="5" height="4.4" fill="#0b0b10"/>
<rect x="683.30" y="487.40" width="5" height="4.4" fill="#0b0b10"/>
<rect x="425.5" y="289.4" width="298.00" height="222.70" fill="none" stroke="#000" stroke-width="1"/>
<line x1="425.50" y1="512.10" x2="425.50" y2="515.90" stroke="#000" stroke-width="1" />
<text x="425.70" y="527.9" font-size="10" text-anchor="middle" font-family="Liberation Sans, Arial, sans-serif">10<tspan dy="-2.8" font-size="7.6">10</tspan></text>
<line x1="452.71" y1="512.10" x2="452.71" y2="514.10" stroke="#000" stroke-width="1" />
<line x1="468.63" y1="512.10" x2="468.63" y2="514.10" stroke="#000" stroke-width="1" />
<line x1="479.93" y1="512.10" x2="479.93" y2="514.10" stroke="#000" stroke-width="1" />
<line x1="488.69" y1="512.10" x2="488.69" y2="514.10" stroke="#000" stroke-width="1" />
<line x1="495.84" y1="512.10" x2="495.84" y2="514.10" stroke="#000" stroke-width="1" />
<line x1="501.90" y1="512.10" x2="501.90" y2="514.10" stroke="#000" stroke-width="1" />
<line x1="507.14" y1="512.10" x2="507.14" y2="514.10" stroke="#000" stroke-width="1" />
<line x1="511.76" y1="512.10" x2="511.76" y2="514.10" stroke="#000" stroke-width="1" />
<line x1="515.90" y1="512.10" x2="515.90" y2="515.90" stroke="#000" stroke-width="1" />
<text x="516.10" y="527.9" font-size="10" text-anchor="middle" font-family="Liberation Sans, Arial, sans-serif">10<tspan dy="-2.8" font-size="7.6">11</tspan></text>
<line x1="543.11" y1="512.10" x2="543.11" y2="514.10" stroke="#000" stroke-width="1" />
<line x1="559.03" y1="512.10" x2="559.03" y2="514.10" stroke="#000" stroke-width="1" />
<line x1="570.33" y1="512.10" x2="570.33" y2="514.10" stroke="#000" stroke-width="1" />
<line x1="579.09" y1="512.10" x2="579.09" y2="514.10" stroke="#000" stroke-width="1" />
<line x1="586.24" y1="512.10" x2="586.24" y2="514.10" stroke="#000" stroke-width="1" />
<line x1="592.30" y1="512.10" x2="592.30" y2="514.10" stroke="#000" stroke-width="1" />
<line x1="597.54" y1="512.10" x2="597.54" y2="514.10" stroke="#000" stroke-width="1" />
<line x1="602.16" y1="512.10" x2="602.16" y2="514.10" stroke="#000" stroke-width="1" />
<line x1="606.30" y1="512.10" x2="606.30" y2="515.90" stroke="#000" stroke-width="1" />
<text x="606.50" y="527.9" font-size="10" text-anchor="middle" font-family="Liberation Sans, Arial, sans-serif">10<tspan dy="-2.8" font-size="7.6">12</tspan></text>
<line x1="633.51" y1="512.10" x2="633.51" y2="514.10" stroke="#000" stroke-width="1" />
<line x1="649.43" y1="512.10" x2="649.43" y2="514.10" stroke="#000" stroke-width="1" />
<line x1="660.73" y1="512.10" x2="660.73" y2="514.10" stroke="#000" stroke-width="1" />
<line x1="669.49" y1="512.10" x2="669.49" y2="514.10" stroke="#000" stroke-width="1" />
<line x1="676.64" y1="512.10" x2="676.64" y2="514.10" stroke="#000" stroke-width="1" />
<line x1="682.70" y1="512.10" x2="682.70" y2="514.10" stroke="#000" stroke-width="1" />
<line x1="687.94" y1="512.10" x2="687.94" y2="514.10" stroke="#000" stroke-width="1" />
<line x1="692.56" y1="512.10" x2="692.56" y2="514.10" stroke="#000" stroke-width="1" />
<line x1="696.70" y1="512.10" x2="696.70" y2="515.90" stroke="#000" stroke-width="1" />
<text x="696.90" y="527.9" font-size="10" text-anchor="middle" font-family="Liberation Sans, Arial, sans-serif">10<tspan dy="-2.8" font-size="7.6">13</tspan></text>
<line x1="425.50" y1="491.85" x2="421.10" y2="491.85" stroke="#000" stroke-width="1" />
<text x="417.80" y="495.45" font-size="10.2" text-anchor="end" font-family="Liberation Sans, Arial, sans-serif" fill="#000" >0.0</text>
<line x1="425.50" y1="471.61" x2="423.10" y2="471.61" stroke="#000" stroke-width="1" />
<line x1="425.50" y1="451.36" x2="421.10" y2="451.36" stroke="#000" stroke-width="1" />
<text x="417.80" y="454.96" font-size="10.2" text-anchor="end" font-family="Liberation Sans, Arial, sans-serif" fill="#000" >0.1</text>
<line x1="425.50" y1="431.12" x2="423.10" y2="431.12" stroke="#000" stroke-width="1" />
<line x1="425.50" y1="410.87" x2="421.10" y2="410.87" stroke="#000" stroke-width="1" />
<text x="417.80" y="414.47" font-size="10.2" text-anchor="end" font-family="Liberation Sans, Arial, sans-serif" fill="#000" >0.2</text>
<line x1="425.50" y1="390.63" x2="423.10" y2="390.63" stroke="#000" stroke-width="1" />
<line x1="425.50" y1="370.38" x2="421.10" y2="370.38" stroke="#000" stroke-width="1" />
<text x="417.80" y="373.98" font-size="10.2" text-anchor="end" font-family="Liberation Sans, Arial, sans-serif" fill="#000" >0.3</text>
<line x1="425.50" y1="350.14" x2="423.10" y2="350.14" stroke="#000" stroke-width="1" />
<line x1="425.50" y1="329.89" x2="421.10" y2="329.89" stroke="#000" stroke-width="1" />
<text x="417.80" y="333.49" font-size="10.2" text-anchor="end" font-family="Liberation Sans, Arial, sans-serif" fill="#000" >0.4</text>
<line x1="425.50" y1="309.65" x2="423.10" y2="309.65" stroke="#000" stroke-width="1" />
<line x1="425.50" y1="289.40" x2="421.10" y2="289.40" stroke="#000" stroke-width="1" />
<text x="417.80" y="293.00" font-size="10.2" text-anchor="end" font-family="Liberation Sans, Arial, sans-serif" fill="#000" >0.5</text>
<text transform="translate(397.5,399.8) rotate(-90)" font-size="12" text-anchor="middle" font-family="Liberation Sans, Arial, sans-serif">HET rate (<tspan font-style="italic">k</tspan><tspan dy="-4.5" font-size="7.5" font-style="italic">0</tspan><tspan dy="4.5"> / cm s</tspan><tspan dy="-4.5" font-size="7.5">-1</tspan><tspan dy="4.5">)</tspan></text>
<text transform="translate(574.4,545.6) scale(1.1,1)" font-size="11.6" text-anchor="middle" font-family="Liberation Sans, Arial, sans-serif">Defect density (<tspan font-style="italic">n</tspan><tspan dy="2.5" font-size="8.2">D</tspan><tspan dy="-2.5"> / cm</tspan><tspan dy="-4" font-size="8">-2</tspan><tspan dy="4">)</tspan></text>
<text x="753.50" y="281.00" font-size="18.5" text-anchor="start" font-family="Liberation Serif, Times New Roman, serif" fill="#000" >(f)</text>
<rect x="799.8" y="289.4" width="146.40" height="222.70" fill="#cbecf9"/>
<rect x="946.2" y="289.4" width="113.90" height="222.70" fill="#ffcccc"/>
<rect x="1060.1" y="289.4" width="57.10" height="222.70" fill="#cccccc"/>
<path d="M842.5,478.2 C849.3,477.6 868.5,476.1 883.1,474.8 C897.7,473.5 919.5,471.7 930.0,470.4 C940.5,469.1 940.2,468.4 946.0,467.2 C951.8,466.0 958.4,464.8 964.6,463.2 C970.8,461.6 978.8,459.4 983.3,457.9 C987.8,456.4 987.8,456.6 991.8,454.4 C995.8,452.2 1002.5,448.5 1007.3,444.6 C1012.1,440.8 1016.7,436.0 1020.6,431.3 C1024.5,426.6 1027.2,422.4 1030.7,416.6 C1034.2,410.8 1038.2,402.8 1041.9,396.6 C1045.6,390.4 1049.5,383.7 1052.6,379.3 C1055.7,374.9 1058.6,372.0 1060.6,370.0 C1062.6,368.0 1063.4,367.9 1064.5,367.4 C1065.6,366.9 1066.3,366.6 1067.2,366.8 C1068.1,367.0 1069.1,367.3 1070.0,368.3 C1070.9,369.3 1071.6,369.0 1072.6,372.6 C1073.6,376.2 1075.1,382.7 1076.0,390.0 C1076.9,397.3 1077.5,406.6 1077.9,416.6 C1078.3,426.6 1078.4,438.0 1078.5,450.0 C1078.6,462.0 1078.7,482.2 1078.7,488.6" fill="none" stroke="#2a2a2a" stroke-width="0.75"/>
<line x1="842.50" y1="478.20" x2="1037.10" y2="461.10" stroke="#d84a4a" stroke-width="0.9" stroke-dasharray="1.6 1.9"/>
<line x1="831.60" y1="478.20" x2="853.50" y2="478.20" stroke="#cf4a4a" stroke-width="0.9" />
<line x1="831.60" y1="476.00" x2="831.60" y2="480.40" stroke="#cf4a4a" stroke-width="0.9" />
<line x1="853.50" y1="476.00" x2="853.50" y2="480.40" stroke="#cf4a4a" stroke-width="0.9" />
<line x1="842.50" y1="474.20" x2="842.50" y2="482.10" stroke="#3f8f4a" stroke-width="0.8" />
<line x1="840.30" y1="474.20" x2="844.70" y2="474.20" stroke="#3f8f4a" stroke-width="0.8" />
<line x1="840.30" y1="482.10" x2="844.70" y2="482.10" stroke="#3f8f4a" stroke-width="0.8" />
<line x1="876.30" y1="475.20" x2="889.80" y2="475.20" stroke="#cf4a4a" stroke-width="0.9" />
<line x1="876.30" y1="473.00" x2="876.30" y2="477.40" stroke="#cf4a4a" stroke-width="0.9" />
<line x1="889.80" y1="473.00" x2="889.80" y2="477.40" stroke="#cf4a4a" stroke-width="0.9" />
<line x1="883.10" y1="471.20" x2="883.10" y2="479.20" stroke="#3f8f4a" stroke-width="0.8" />
<line x1="880.90" y1="471.20" x2="885.30" y2="471.20" stroke="#3f8f4a" stroke-width="0.8" />
<line x1="880.90" y1="479.20" x2="885.30" y2="479.20" stroke="#3f8f4a" stroke-width="0.8" />
<line x1="987.80" y1="465.00" x2="995.20" y2="465.00" stroke="#cf4a4a" stroke-width="0.9" />
<line x1="987.80" y1="462.80" x2="987.80" y2="467.20" stroke="#cf4a4a" stroke-width="0.9" />
<line x1="995.20" y1="462.80" x2="995.20" y2="467.20" stroke="#cf4a4a" stroke-width="0.9" />
<line x1="991.50" y1="456.80" x2="991.50" y2="473.00" stroke="#7f9245" stroke-width="0.8" />
<line x1="989.30" y1="456.80" x2="993.70" y2="456.80" stroke="#7f9245" stroke-width="0.8" />
<line x1="989.30" y1="473.00" x2="993.70" y2="473.00" stroke="#7f9245" stroke-width="0.8" />
<line x1="1031.00" y1="402.40" x2="1031.00" y2="443.00" stroke="#7f9245" stroke-width="0.8" />
<line x1="1028.80" y1="402.40" x2="1033.20" y2="402.40" stroke="#7f9245" stroke-width="0.8" />
<line x1="1028.80" y1="443.00" x2="1033.20" y2="443.00" stroke="#7f9245" stroke-width="0.8" />
<line x1="1078.30" y1="306.10" x2="1078.30" y2="346.40" stroke="#3f8f4a" stroke-width="0.8" />
<line x1="1076.10" y1="306.10" x2="1080.50" y2="306.10" stroke="#3f8f4a" stroke-width="0.8" />
<line x1="1076.10" y1="346.40" x2="1080.50" y2="346.40" stroke="#3f8f4a" stroke-width="0.8" />
<rect x="840.00" y="476.00" width="5" height="4.4" fill="#0b0b10"/>
<rect x="880.60" y="473.00" width="5" height="4.4" fill="#0b0b10"/>
<rect x="989.00" y="462.80" width="5" height="4.4" fill="#0b0b10"/>
<rect x="1028.50" y="420.80" width="5" height="4.4" fill="#0b0b10"/>
<rect x="1075.80" y="323.80" width="5" height="4.4" fill="#0b0b10"/>
<rect x="1076.10" y="487.40" width="5" height="4.4" fill="#0b0b10"/>
<rect x="799.8" y="289.4" width="317.40" height="222.70" fill="none" stroke="#000" stroke-width="1"/>
<line x1="799.80" y1="512.10" x2="799.80" y2="515.50" stroke="#000" stroke-width="1" />
<text x="799.80" y="526.90" font-size="10.2" text-anchor="middle" font-family="Liberation Sans, Arial, sans-serif" fill="#000" >35</text>
<line x1="820.96" y1="512.10" x2="820.96" y2="514.00" stroke="#000" stroke-width="1" />
<line x1="842.12" y1="512.10" x2="842.12" y2="515.50" stroke="#000" stroke-width="1" />
<text x="842.12" y="526.90" font-size="10.2" text-anchor="middle" font-family="Liberation Sans, Arial, sans-serif" fill="#000" >30</text>
<line x1="863.28" y1="512.10" x2="863.28" y2="514.00" stroke="#000" stroke-width="1" />
<line x1="884.44" y1="512.10" x2="884.44" y2="515.50" stroke="#000" stroke-width="1" />
<text x="884.44" y="526.90" font-size="10.2" text-anchor="middle" font-family="Liberation Sans, Arial, sans-serif" fill="#000" >25</text>
<line x1="905.60" y1="512.10" x2="905.60" y2="514.00" stroke="#000" stroke-width="1" />
<line x1="926.76" y1="512.10" x2="926.76" y2="515.50" stroke="#000" stroke-width="1" />
<text x="926.76" y="526.90" font-size="10.2" text-anchor="middle" font-family="Liberation Sans, Arial, sans-serif" fill="#000" >20</text>
<line x1="947.92" y1="512.10" x2="947.92" y2="514.00" stroke="#000" stroke-width="1" />
<line x1="969.08" y1="512.10" x2="969.08" y2="515.50" stroke="#000" stroke-width="1" />
<text x="969.08" y="526.90" font-size="10.2" text-anchor="middle" font-family="Liberation Sans, Arial, sans-serif" fill="#000" >15</text>
<line x1="990.24" y1="512.10" x2="990.24" y2="514.00" stroke="#000" stroke-width="1" />
<line x1="1011.40" y1="512.10" x2="1011.40" y2="515.50" stroke="#000" stroke-width="1" />
<text x="1011.40" y="526.90" font-size="10.2" text-anchor="middle" font-family="Liberation Sans, Arial, sans-serif" fill="#000" >10</text>
<line x1="1032.56" y1="512.10" x2="1032.56" y2="514.00" stroke="#000" stroke-width="1" />
<line x1="1053.72" y1="512.10" x2="1053.72" y2="515.50" stroke="#000" stroke-width="1" />
<text x="1053.72" y="526.90" font-size="10.2" text-anchor="middle" font-family="Liberation Sans, Arial, sans-serif" fill="#000" >5</text>
<line x1="1074.88" y1="512.10" x2="1074.88" y2="514.00" stroke="#000" stroke-width="1" />
<line x1="1096.04" y1="512.10" x2="1096.04" y2="515.50" stroke="#000" stroke-width="1" />
<text x="1096.04" y="526.90" font-size="10.2" text-anchor="middle" font-family="Liberation Sans, Arial, sans-serif" fill="#000" >0</text>
<line x1="1117.20" y1="512.10" x2="1117.20" y2="514.00" stroke="#000" stroke-width="1" />
<line x1="799.80" y1="491.85" x2="804.30" y2="491.85" stroke="#000" stroke-width="1" />
<text x="794.30" y="495.45" font-size="10.2" text-anchor="end" font-family="Liberation Sans, Arial, sans-serif" fill="#000" >0.0</text>
<line x1="799.80" y1="471.61" x2="802.30" y2="471.61" stroke="#000" stroke-width="1" />
<line x1="799.80" y1="451.36" x2="804.30" y2="451.36" stroke="#000" stroke-width="1" />
<text x="794.30" y="454.96" font-size="10.2" text-anchor="end" font-family="Liberation Sans, Arial, sans-serif" fill="#000" >0.1</text>
<line x1="799.80" y1="431.12" x2="802.30" y2="431.12" stroke="#000" stroke-width="1" />
<line x1="799.80" y1="410.87" x2="804.30" y2="410.87" stroke="#000" stroke-width="1" />
<text x="794.30" y="414.47" font-size="10.2" text-anchor="end" font-family="Liberation Sans, Arial, sans-serif" fill="#000" >0.2</text>
<line x1="799.80" y1="390.63" x2="802.30" y2="390.63" stroke="#000" stroke-width="1" />
<line x1="799.80" y1="370.38" x2="804.30" y2="370.38" stroke="#000" stroke-width="1" />
<text x="794.30" y="373.98" font-size="10.2" text-anchor="end" font-family="Liberation Sans, Arial, sans-serif" fill="#000" >0.3</text>
<line x1="799.80" y1="350.14" x2="802.30" y2="350.14" stroke="#000" stroke-width="1" />
<line x1="799.80" y1="329.89" x2="804.30" y2="329.89" stroke="#000" stroke-width="1" />
<text x="794.30" y="333.49" font-size="10.2" text-anchor="end" font-family="Liberation Sans, Arial, sans-serif" fill="#000" >0.4</text>
<line x1="799.80" y1="309.65" x2="802.30" y2="309.65" stroke="#000" stroke-width="1" />
<line x1="799.80" y1="289.40" x2="804.30" y2="289.40" stroke="#000" stroke-width="1" />
<text x="794.30" y="293.00" font-size="10.2" text-anchor="end" font-family="Liberation Sans, Arial, sans-serif" fill="#000" >0.5</text>
<text transform="translate(765.6,400.3) rotate(-90) scale(1.017,1)" font-size="12" text-anchor="middle" font-family="Liberation Sans, Arial, sans-serif">HET rate / (<tspan font-style="italic">k</tspan><tspan dy="-4.5" font-size="7.5" font-style="italic">0</tspan><tspan dy="4.5"> / cm s</tspan><tspan dy="-4.5" font-size="7.5">-1</tspan><tspan dy="4.5">)</tspan></text>
<text transform="translate(958.25,544.8) scale(1.11,1)" font-size="11.3" text-anchor="middle" font-family="Liberation Sans, Arial, sans-serif">Mean distance between defects (<tspan font-style="italic">L</tspan><tspan dy="2.5" font-size="8.2">D</tspan><tspan dy="-2.5"> / nm)</tspan></text>
</svg></body></html>
